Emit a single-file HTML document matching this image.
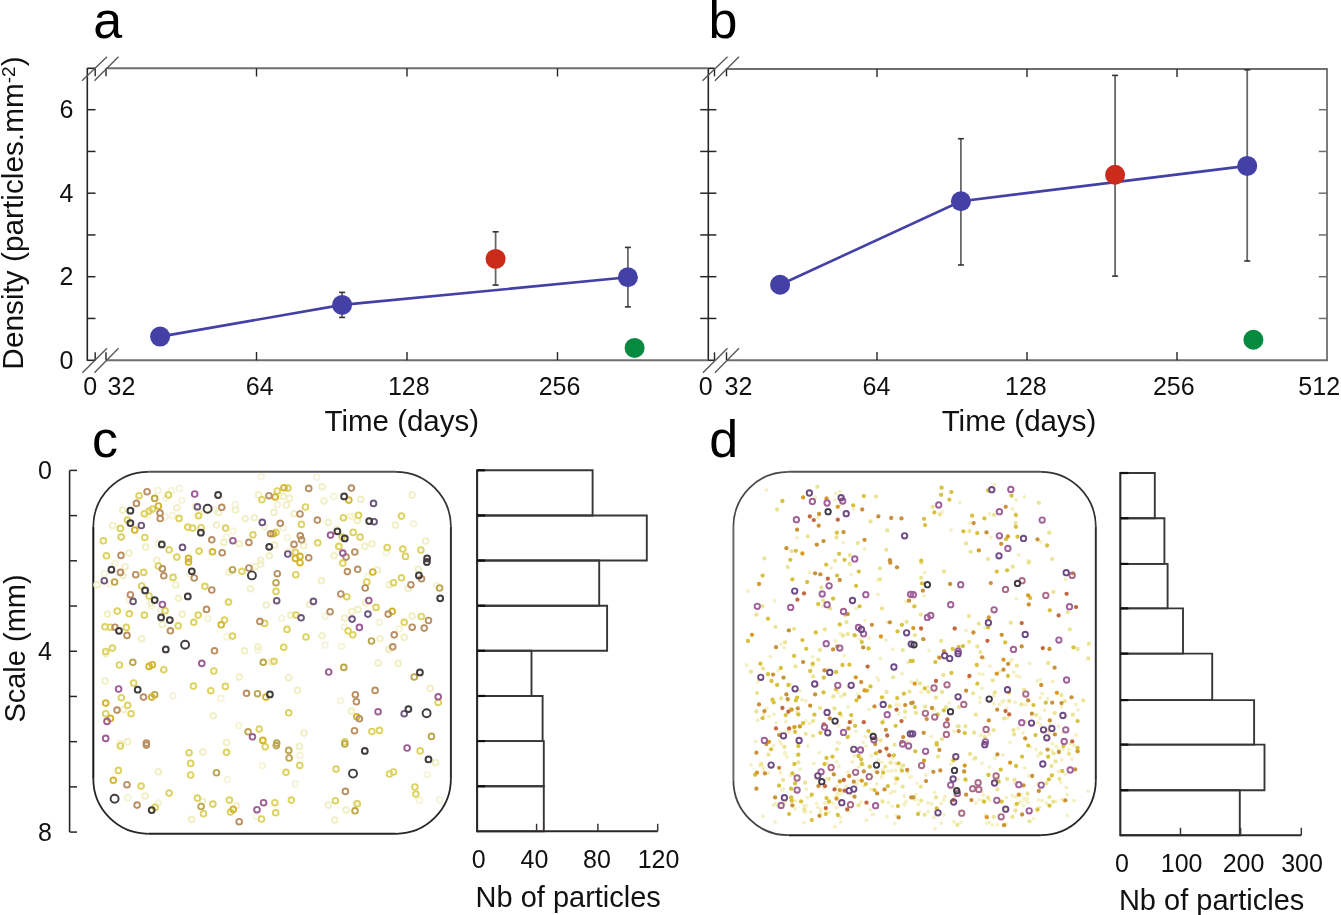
<!DOCTYPE html>
<html><head><meta charset="utf-8"><style>
html,body{margin:0;padding:0;background:#fff;width:1341px;height:915px;overflow:hidden}
svg{display:block;will-change:transform}
text{font-family:"Liberation Sans",sans-serif}
</style></head><body>
<svg width="1341" height="915" viewBox="0 0 1341 915" font-family="Liberation Sans, sans-serif"><text x="93.3" y="37.8" font-size="52" fill="#000">a</text>
<text x="708.6" y="37.8" font-size="52" fill="#000">b</text>
<text x="92" y="457.2" font-size="52" fill="#000">c</text>
<text x="709.3" y="457.2" font-size="52" fill="#000">d</text>
<line x1="87.3" y1="68" x2="87.3" y2="360.8" stroke="#262626" stroke-width="1.6" />
<line x1="708.3" y1="68" x2="708.3" y2="360.8" stroke="#262626" stroke-width="1.6" />
<line x1="1327" y1="69" x2="1327" y2="360.8" stroke="#6e6e6e" stroke-width="1.8" />
<line x1="106" y1="68.3" x2="708.3" y2="68.3" stroke="#6e6e6e" stroke-width="2" />
<line x1="106" y1="360.3" x2="708.3" y2="360.3" stroke="#6e6e6e" stroke-width="2" />
<line x1="726.5" y1="69" x2="1327.8" y2="69" stroke="#6e6e6e" stroke-width="2" />
<line x1="726.5" y1="360.3" x2="1327.8" y2="360.3" stroke="#6e6e6e" stroke-width="2" />
<line x1="87.3" y1="68.3" x2="95.2" y2="68.3" stroke="#262626" stroke-width="1.6" />
<line x1="95.2" y1="68.3" x2="95.2" y2="76.3" stroke="#262626" stroke-width="1.4" />
<line x1="106" y1="68.3" x2="106" y2="76.3" stroke="#262626" stroke-width="1.4" />
<line x1="87.3" y1="360.3" x2="95.2" y2="360.3" stroke="#262626" stroke-width="1.6" />
<line x1="95.2" y1="360.3" x2="95.2" y2="352.3" stroke="#262626" stroke-width="1.4" />
<line x1="106" y1="360.3" x2="106" y2="352.3" stroke="#262626" stroke-width="1.4" />
<line x1="708.3" y1="68.3" x2="714.5" y2="68.3" stroke="#262626" stroke-width="1.6" />
<line x1="714.5" y1="68.3" x2="714.5" y2="76.3" stroke="#262626" stroke-width="1.4" />
<line x1="726.5" y1="68.3" x2="726.5" y2="76.3" stroke="#262626" stroke-width="1.4" />
<line x1="708.3" y1="360.3" x2="714.5" y2="360.3" stroke="#262626" stroke-width="1.6" />
<line x1="714.5" y1="360.3" x2="714.5" y2="352.3" stroke="#262626" stroke-width="1.4" />
<line x1="726.5" y1="360.3" x2="726.5" y2="352.3" stroke="#262626" stroke-width="1.4" />
<line x1="82" y1="80.7" x2="107" y2="56.7" stroke="#555" stroke-width="1.3" />
<line x1="94.4" y1="80.7" x2="118.5" y2="56.7" stroke="#555" stroke-width="1.3" />
<line x1="82.4" y1="372.7" x2="107" y2="348.2" stroke="#555" stroke-width="1.3" />
<line x1="94.4" y1="372.7" x2="118.5" y2="348.2" stroke="#555" stroke-width="1.3" />
<line x1="702.5" y1="80.7" x2="727.5" y2="56.7" stroke="#555" stroke-width="1.3" />
<line x1="714.9" y1="80.7" x2="739.0" y2="56.7" stroke="#555" stroke-width="1.3" />
<line x1="702.9" y1="372.7" x2="727.5" y2="348.2" stroke="#555" stroke-width="1.3" />
<line x1="714.9" y1="372.7" x2="739.0" y2="348.2" stroke="#555" stroke-width="1.3" />
<line x1="87.3" y1="318.45" x2="95.5" y2="318.45" stroke="#262626" stroke-width="1.5" />
<line x1="700.2" y1="318.45" x2="716.4" y2="318.45" stroke="#262626" stroke-width="1.5" />
<line x1="1318.8" y1="318.45" x2="1327" y2="318.45" stroke="#6e6e6e" stroke-width="1.5" />
<line x1="87.3" y1="276.7" x2="95.5" y2="276.7" stroke="#262626" stroke-width="1.5" />
<line x1="700.2" y1="276.7" x2="716.4" y2="276.7" stroke="#262626" stroke-width="1.5" />
<line x1="1318.8" y1="276.7" x2="1327" y2="276.7" stroke="#6e6e6e" stroke-width="1.5" />
<line x1="87.3" y1="234.95" x2="95.5" y2="234.95" stroke="#262626" stroke-width="1.5" />
<line x1="700.2" y1="234.95" x2="716.4" y2="234.95" stroke="#262626" stroke-width="1.5" />
<line x1="1318.8" y1="234.95" x2="1327" y2="234.95" stroke="#6e6e6e" stroke-width="1.5" />
<line x1="87.3" y1="193.2" x2="95.5" y2="193.2" stroke="#262626" stroke-width="1.5" />
<line x1="700.2" y1="193.2" x2="716.4" y2="193.2" stroke="#262626" stroke-width="1.5" />
<line x1="1318.8" y1="193.2" x2="1327" y2="193.2" stroke="#6e6e6e" stroke-width="1.5" />
<line x1="87.3" y1="151.45" x2="95.5" y2="151.45" stroke="#262626" stroke-width="1.5" />
<line x1="700.2" y1="151.45" x2="716.4" y2="151.45" stroke="#262626" stroke-width="1.5" />
<line x1="1318.8" y1="151.45" x2="1327" y2="151.45" stroke="#6e6e6e" stroke-width="1.5" />
<line x1="87.3" y1="109.69999999999999" x2="95.5" y2="109.69999999999999" stroke="#262626" stroke-width="1.5" />
<line x1="700.2" y1="109.69999999999999" x2="716.4" y2="109.69999999999999" stroke="#262626" stroke-width="1.5" />
<line x1="1318.8" y1="109.69999999999999" x2="1327" y2="109.69999999999999" stroke="#6e6e6e" stroke-width="1.5" />
<line x1="256.5" y1="352" x2="256.5" y2="360.3" stroke="#262626" stroke-width="1.4" />
<line x1="256.5" y1="68.3" x2="256.5" y2="76.5" stroke="#262626" stroke-width="1.4" />
<line x1="407" y1="352" x2="407" y2="360.3" stroke="#262626" stroke-width="1.4" />
<line x1="407" y1="68.3" x2="407" y2="76.5" stroke="#262626" stroke-width="1.4" />
<line x1="557.5" y1="352" x2="557.5" y2="360.3" stroke="#262626" stroke-width="1.4" />
<line x1="557.5" y1="68.3" x2="557.5" y2="76.5" stroke="#262626" stroke-width="1.4" />
<line x1="877" y1="352" x2="877" y2="360.3" stroke="#262626" stroke-width="1.4" />
<line x1="877" y1="69" x2="877" y2="77" stroke="#262626" stroke-width="1.4" />
<line x1="1027" y1="352" x2="1027" y2="360.3" stroke="#262626" stroke-width="1.4" />
<line x1="1027" y1="69" x2="1027" y2="77" stroke="#262626" stroke-width="1.4" />
<line x1="1177" y1="352" x2="1177" y2="360.3" stroke="#262626" stroke-width="1.4" />
<line x1="1177" y1="69" x2="1177" y2="77" stroke="#262626" stroke-width="1.4" />
<text x="73.5" y="118.3" font-size="25" fill="#111" text-anchor="end">6</text>
<text x="73.5" y="201.8" font-size="25" fill="#111" text-anchor="end">4</text>
<text x="73.5" y="285.3" font-size="25" fill="#111" text-anchor="end">2</text>
<text x="73.5" y="368.8" font-size="25" fill="#111" text-anchor="end">0</text>
<text x="90.3" y="395" font-size="25" fill="#111" text-anchor="middle">0</text>
<text x="121.5" y="395" font-size="25" fill="#111" text-anchor="middle">32</text>
<text x="259.7" y="395" font-size="25" fill="#111" text-anchor="middle">64</text>
<text x="408.8" y="395" font-size="25" fill="#111" text-anchor="middle">128</text>
<text x="559.5" y="395" font-size="25" fill="#111" text-anchor="middle">256</text>
<text x="705.7" y="395" font-size="25" fill="#111" text-anchor="middle">0</text>
<text x="738.5" y="395" font-size="25" fill="#111" text-anchor="middle">32</text>
<text x="876.4" y="395" font-size="25" fill="#111" text-anchor="middle">64</text>
<text x="1025.9" y="395" font-size="25" fill="#111" text-anchor="middle">128</text>
<text x="1173.8" y="395" font-size="25" fill="#111" text-anchor="middle">256</text>
<text x="1319.2" y="395" font-size="25" fill="#111" text-anchor="middle">512</text>
<text x="401.8" y="430.8" font-size="29.5" fill="#111" text-anchor="middle">Time (days)</text>
<text x="1019" y="430.8" font-size="29.5" fill="#111" text-anchor="middle">Time (days)</text>
<text transform="translate(23.4,213) rotate(-90)" font-size="29.8" fill="#111" text-anchor="middle">Density (particles.mm<tspan font-size="19" dy="-8.7">-2</tspan><tspan dy="8.7">)</tspan></text>
<line x1="342.1" y1="292.4" x2="342.1" y2="317.4" stroke="#6b6767" stroke-width="1.8" />
<line x1="339.1" y1="292.4" x2="345.1" y2="292.4" stroke="#333" stroke-width="1.6" />
<line x1="339.1" y1="317.4" x2="345.1" y2="317.4" stroke="#333" stroke-width="1.6" />
<line x1="495.6" y1="231.8" x2="495.6" y2="285.1" stroke="#6b6767" stroke-width="1.8" />
<line x1="492.6" y1="231.8" x2="498.6" y2="231.8" stroke="#333" stroke-width="1.6" />
<line x1="492.6" y1="285.1" x2="498.6" y2="285.1" stroke="#333" stroke-width="1.6" />
<line x1="627.9" y1="247.4" x2="627.9" y2="306.9" stroke="#6b6767" stroke-width="1.8" />
<line x1="624.9" y1="247.4" x2="630.9" y2="247.4" stroke="#333" stroke-width="1.6" />
<line x1="624.9" y1="306.9" x2="630.9" y2="306.9" stroke="#333" stroke-width="1.6" />
<polyline points="160.1,336.6 342.1,304.9 627.9,277.3" fill="none" stroke="#4340a6" stroke-width="2.6"/>
<circle cx="160.1" cy="336.6" r="10" fill="#4340a6"/>
<circle cx="342.1" cy="304.9" r="10" fill="#4340a6"/>
<circle cx="627.9" cy="277.3" r="10" fill="#4340a6"/>
<circle cx="495.6" cy="258.9" r="10" fill="#cc2a1b"/>
<circle cx="634.6" cy="347.9" r="10" fill="#058a40"/>
<line x1="960.9" y1="138.7" x2="960.9" y2="265" stroke="#6b6767" stroke-width="1.8" />
<line x1="957.9" y1="138.7" x2="963.9" y2="138.7" stroke="#333" stroke-width="1.6" />
<line x1="957.9" y1="265" x2="963.9" y2="265" stroke="#333" stroke-width="1.6" />
<line x1="1115.1" y1="75.4" x2="1115.1" y2="276.1" stroke="#6b6767" stroke-width="1.8" />
<line x1="1112.1" y1="75.4" x2="1118.1" y2="75.4" stroke="#333" stroke-width="1.6" />
<line x1="1112.1" y1="276.1" x2="1118.1" y2="276.1" stroke="#333" stroke-width="1.6" />
<line x1="1247.2" y1="69.8" x2="1247.2" y2="261" stroke="#6b6767" stroke-width="1.8" />
<line x1="1244.2" y1="69.8" x2="1250.2" y2="69.8" stroke="#333" stroke-width="1.6" />
<line x1="1244.2" y1="261" x2="1250.2" y2="261" stroke="#333" stroke-width="1.6" />
<polyline points="780.1,284.8 960.9,201.2 1247.2,165.9" fill="none" stroke="#4340a6" stroke-width="2.6"/>
<circle cx="780.1" cy="284.8" r="10" fill="#4340a6"/>
<circle cx="960.9" cy="201.2" r="10" fill="#4340a6"/>
<circle cx="1247.2" cy="165.9" r="10" fill="#4340a6"/>
<circle cx="1115.1" cy="174.8" r="10" fill="#cc2a1b"/>
<circle cx="1253.4" cy="339.7" r="10" fill="#058a40"/>
<line x1="69.6" y1="470.4" x2="69.6" y2="832.1" stroke="#262626" stroke-width="1.6" />
<line x1="69.6" y1="470.4" x2="77" y2="470.4" stroke="#262626" stroke-width="1.5" />
<line x1="69.6" y1="515.61" x2="77" y2="515.61" stroke="#262626" stroke-width="1.5" />
<line x1="69.6" y1="560.8199999999999" x2="77" y2="560.8199999999999" stroke="#262626" stroke-width="1.5" />
<line x1="69.6" y1="606.03" x2="77" y2="606.03" stroke="#262626" stroke-width="1.5" />
<line x1="69.6" y1="651.24" x2="77" y2="651.24" stroke="#262626" stroke-width="1.5" />
<line x1="69.6" y1="696.45" x2="77" y2="696.45" stroke="#262626" stroke-width="1.5" />
<line x1="69.6" y1="741.66" x2="77" y2="741.66" stroke="#262626" stroke-width="1.5" />
<line x1="69.6" y1="786.87" x2="77" y2="786.87" stroke="#262626" stroke-width="1.5" />
<line x1="69.6" y1="832.0799999999999" x2="77" y2="832.0799999999999" stroke="#262626" stroke-width="1.5" />
<text x="52" y="479.0" font-size="25" fill="#111" text-anchor="end">0</text>
<text x="52" y="659.8" font-size="25" fill="#111" text-anchor="end">4</text>
<text x="52" y="840.7" font-size="25" fill="#111" text-anchor="end">8</text>
<text transform="translate(24.6,648.5) rotate(-90)" font-size="29" fill="#111" text-anchor="middle">Scale (mm)</text>
<path d="M148.3,471.8 H395.9" stroke="#555555" stroke-width="2.0" fill="none"/>
<path d="M450.9,526.8 V778.8" stroke="#2e2e2e" stroke-width="2.0" fill="none"/>
<path d="M395.9,833.8 H148.3" stroke="#232323" stroke-width="2.0" fill="none"/>
<path d="M93.3,778.8 V526.8" stroke="#161616" stroke-width="2.0" fill="none"/>
<path d="M93.3,526.8 A55,55 0 0 1 148.3,471.8" stroke="#2e2e2e" stroke-width="1.8" fill="none"/>
<path d="M395.9,471.8 A55,55 0 0 1 450.9,526.8" stroke="#333333" stroke-width="1.8" fill="none"/>
<path d="M450.9,778.8 A55,55 0 0 1 395.9,833.8" stroke="#262626" stroke-width="1.8" fill="none"/>
<path d="M148.3,833.8 A55,55 0 0 1 93.3,778.8" stroke="#262626" stroke-width="1.8" fill="none"/>
<path d="M788.4,471.8 H1040.8" stroke="#555555" stroke-width="2.0" fill="none"/>
<path d="M1095.8,526.8 V780.2" stroke="#2e2e2e" stroke-width="2.0" fill="none"/>
<path d="M1040.8,835.2 H788.4" stroke="#232323" stroke-width="2.0" fill="none"/>
<path d="M733.4,780.2 V526.8" stroke="#6a6a6a" stroke-width="2.0" fill="none"/>
<path d="M733.4,526.8 A55,55 0 0 1 788.4,471.8" stroke="#4a4a4a" stroke-width="1.8" fill="none"/>
<path d="M1040.8,471.8 A55,55 0 0 1 1095.8,526.8" stroke="#333333" stroke-width="1.8" fill="none"/>
<path d="M1095.8,780.2 A55,55 0 0 1 1040.8,835.2" stroke="#262626" stroke-width="1.8" fill="none"/>
<path d="M788.4,835.2 A55,55 0 0 1 733.4,780.2" stroke="#444444" stroke-width="1.8" fill="none"/>
<polyline points="477.1,470.3 592.6,470.3 592.6,515.4300000000001 477.1,515.4300000000001" fill="none" stroke="#3a3636" stroke-width="1.9"/>
<polyline points="477.1,515.4300000000001 646.8,515.4300000000001 646.8,560.5600000000001 477.1,560.5600000000001" fill="none" stroke="#3a3636" stroke-width="1.9"/>
<polyline points="477.1,560.5600000000001 599.2,560.5600000000001 599.2,605.69 477.1,605.69" fill="none" stroke="#3a3636" stroke-width="1.9"/>
<polyline points="477.1,605.69 607.1,605.69 607.1,650.82 477.1,650.82" fill="none" stroke="#3a3636" stroke-width="1.9"/>
<polyline points="477.1,650.82 531.5,650.82 531.5,695.95 477.1,695.95" fill="none" stroke="#3a3636" stroke-width="1.9"/>
<polyline points="477.1,695.95 542.6,695.95 542.6,741.08 477.1,741.08" fill="none" stroke="#3a3636" stroke-width="1.9"/>
<polyline points="477.1,741.08 543.8,741.08 543.8,786.21 477.1,786.21" fill="none" stroke="#3a3636" stroke-width="1.9"/>
<polyline points="477.1,786.21 543.8,786.21 543.8,831.34 477.1,831.34" fill="none" stroke="#3a3636" stroke-width="1.9"/>
<line x1="477.1" y1="469.40000000000003" x2="477.1" y2="832.1999999999999" stroke="#2c2828" stroke-width="2.1" />
<line x1="477.1" y1="470.3" x2="485.1" y2="470.3" stroke="#141010" stroke-width="2.2" />
<line x1="477.1" y1="515.4300000000001" x2="485.1" y2="515.4300000000001" stroke="#141010" stroke-width="2.2" />
<line x1="477.1" y1="560.5600000000001" x2="485.1" y2="560.5600000000001" stroke="#141010" stroke-width="2.2" />
<line x1="477.1" y1="605.69" x2="485.1" y2="605.69" stroke="#141010" stroke-width="2.2" />
<line x1="477.1" y1="650.82" x2="485.1" y2="650.82" stroke="#141010" stroke-width="2.2" />
<line x1="477.1" y1="695.95" x2="485.1" y2="695.95" stroke="#141010" stroke-width="2.2" />
<line x1="477.1" y1="741.08" x2="485.1" y2="741.08" stroke="#141010" stroke-width="2.2" />
<line x1="477.1" y1="786.21" x2="485.1" y2="786.21" stroke="#141010" stroke-width="2.2" />
<line x1="477.1" y1="831.3" x2="657.7" y2="831.3" stroke="#2c2828" stroke-width="1.9" />
<line x1="536.6" y1="831.3" x2="536.6" y2="823.8" stroke="#3a3636" stroke-width="1.5" />
<line x1="597.9" y1="831.3" x2="597.9" y2="823.8" stroke="#3a3636" stroke-width="1.5" />
<line x1="657.7" y1="831.3" x2="657.7" y2="823.8" stroke="#3a3636" stroke-width="1.5" />
<text x="478.7" y="868.3" font-size="25" fill="#111" text-anchor="middle">0</text>
<text x="534.4" y="868.3" font-size="25" fill="#111" text-anchor="middle">40</text>
<text x="597" y="868.3" font-size="25" fill="#111" text-anchor="middle">80</text>
<text x="658.5" y="868.3" font-size="25" fill="#111" text-anchor="middle">120</text>
<text x="568.2" y="907.1" font-size="29" fill="#111" text-anchor="middle">Nb of particles</text>
<polyline points="1120.3,473 1154.8,473 1154.8,518.2 1120.3,518.2" fill="none" stroke="#3a3636" stroke-width="1.9"/>
<polyline points="1120.3,518.2 1164.4,518.2 1164.4,563.9 1120.3,563.9" fill="none" stroke="#3a3636" stroke-width="1.9"/>
<polyline points="1120.3,563.9 1167.6,563.9 1167.6,608.4 1120.3,608.4" fill="none" stroke="#3a3636" stroke-width="1.9"/>
<polyline points="1120.3,608.4 1183,608.4 1183,653.6 1120.3,653.6" fill="none" stroke="#3a3636" stroke-width="1.9"/>
<polyline points="1120.3,653.6 1212.2,653.6 1212.2,700.1 1120.3,700.1" fill="none" stroke="#3a3636" stroke-width="1.9"/>
<polyline points="1120.3,700.1 1254.1,700.1 1254.1,744.6 1120.3,744.6" fill="none" stroke="#3a3636" stroke-width="1.9"/>
<polyline points="1120.3,744.6 1264.5,744.6 1264.5,790.2 1120.3,790.2" fill="none" stroke="#3a3636" stroke-width="1.9"/>
<polyline points="1120.3,790.2 1239.8,790.2 1239.8,835.3 1120.3,835.3" fill="none" stroke="#3a3636" stroke-width="1.9"/>
<line x1="1120.3" y1="472.1" x2="1120.3" y2="836.1999999999999" stroke="#2c2828" stroke-width="2.1" />
<line x1="1120.3" y1="473" x2="1128.3" y2="473" stroke="#141010" stroke-width="2.2" />
<line x1="1120.3" y1="518.2" x2="1128.3" y2="518.2" stroke="#141010" stroke-width="2.2" />
<line x1="1120.3" y1="563.9" x2="1128.3" y2="563.9" stroke="#141010" stroke-width="2.2" />
<line x1="1120.3" y1="608.4" x2="1128.3" y2="608.4" stroke="#141010" stroke-width="2.2" />
<line x1="1120.3" y1="653.6" x2="1128.3" y2="653.6" stroke="#141010" stroke-width="2.2" />
<line x1="1120.3" y1="700.1" x2="1128.3" y2="700.1" stroke="#141010" stroke-width="2.2" />
<line x1="1120.3" y1="744.6" x2="1128.3" y2="744.6" stroke="#141010" stroke-width="2.2" />
<line x1="1120.3" y1="790.2" x2="1128.3" y2="790.2" stroke="#141010" stroke-width="2.2" />
<line x1="1120.3" y1="835.3" x2="1301.3" y2="835.3" stroke="#2c2828" stroke-width="1.9" />
<line x1="1180.5" y1="835.3" x2="1180.5" y2="827.8" stroke="#3a3636" stroke-width="1.5" />
<line x1="1240.6" y1="835.3" x2="1240.6" y2="827.8" stroke="#3a3636" stroke-width="1.5" />
<line x1="1301.3" y1="835.3" x2="1301.3" y2="827.8" stroke="#3a3636" stroke-width="1.5" />
<text x="1122" y="871.5" font-size="25" fill="#111" text-anchor="middle">0</text>
<text x="1181.6" y="871.5" font-size="25" fill="#111" text-anchor="middle">100</text>
<text x="1243.5" y="871.5" font-size="25" fill="#111" text-anchor="middle">200</text>
<text x="1302" y="871.5" font-size="25" fill="#111" text-anchor="middle">300</text>
<text x="1211.6" y="910" font-size="29" fill="#111" text-anchor="middle">Nb of particles</text><g>
<g fill="none" stroke="#f6f4d8" stroke-width="1.9">
<circle cx="273.3" cy="496.5" r="2.85"/>
<circle cx="181.8" cy="500.5" r="2.85"/>
<circle cx="261.2" cy="476.8" r="2.85"/>
<circle cx="172.5" cy="515.5" r="2.85"/>
<circle cx="195.6" cy="506.6" r="2.85"/>
<circle cx="171.3" cy="490.5" r="2.85"/>
<circle cx="166.0" cy="498.0" r="2.85"/>
<circle cx="157.8" cy="490.4" r="2.85"/>
<circle cx="199.6" cy="513.4" r="2.85"/>
<circle cx="352.9" cy="516.5" r="2.85"/>
<circle cx="164.9" cy="516.9" r="2.85"/>
<circle cx="147.9" cy="515.0" r="2.85"/>
<circle cx="179.4" cy="488.5" r="2.85"/>
<circle cx="316.7" cy="477.2" r="2.85"/>
<circle cx="235.3" cy="504.6" r="2.85"/>
<circle cx="277.5" cy="504.6" r="2.85"/>
<circle cx="206.2" cy="510.9" r="2.85"/>
<circle cx="214.9" cy="509.9" r="2.85"/>
<circle cx="333.9" cy="496.4" r="2.85"/>
<circle cx="288.2" cy="551.1" r="2.85"/>
<circle cx="115.1" cy="563.2" r="2.85"/>
<circle cx="264.4" cy="527.1" r="2.85"/>
<circle cx="158.5" cy="543.2" r="2.85"/>
<circle cx="292.5" cy="551.5" r="2.85"/>
<circle cx="339.5" cy="546.7" r="2.85"/>
<circle cx="283.2" cy="527.7" r="2.85"/>
<circle cx="122.3" cy="536.5" r="2.85"/>
<circle cx="233.1" cy="531.1" r="2.85"/>
<circle cx="287.5" cy="537.7" r="2.85"/>
<circle cx="386.1" cy="552.8" r="2.85"/>
<circle cx="336.8" cy="529.0" r="2.85"/>
<circle cx="413.6" cy="523.8" r="2.85"/>
<circle cx="350.1" cy="516.2" r="2.85"/>
<circle cx="226.7" cy="537.0" r="2.85"/>
<circle cx="104.4" cy="573.7" r="2.85"/>
<circle cx="129.0" cy="600.2" r="2.85"/>
<circle cx="367.8" cy="576.0" r="2.85"/>
<circle cx="436.7" cy="585.4" r="2.85"/>
<circle cx="109.9" cy="583.7" r="2.85"/>
<circle cx="189.7" cy="574.1" r="2.85"/>
<circle cx="151.5" cy="605.7" r="2.85"/>
<circle cx="391.0" cy="648.5" r="2.85"/>
<circle cx="325.1" cy="645.1" r="2.85"/>
<circle cx="344.6" cy="627.3" r="2.85"/>
<circle cx="226.7" cy="636.9" r="2.85"/>
<circle cx="258.0" cy="650.3" r="2.85"/>
<circle cx="399.0" cy="628.9" r="2.85"/>
<circle cx="281.8" cy="618.2" r="2.85"/>
<circle cx="207.8" cy="618.6" r="2.85"/>
<circle cx="160.7" cy="610.2" r="2.85"/>
<circle cx="379.4" cy="622.3" r="2.85"/>
<circle cx="341.6" cy="646.2" r="2.85"/>
<circle cx="325.2" cy="616.2" r="2.85"/>
<circle cx="238.8" cy="725.6" r="2.85"/>
<circle cx="340.6" cy="700.7" r="2.85"/>
<circle cx="220.8" cy="698.4" r="2.85"/>
<circle cx="263.5" cy="740.2" r="2.85"/>
<circle cx="172.9" cy="695.9" r="2.85"/>
<circle cx="427.4" cy="774.7" r="2.85"/>
<circle cx="262.4" cy="765.7" r="2.85"/>
<circle cx="300.1" cy="755.4" r="2.85"/>
<circle cx="227.3" cy="779.5" r="2.85"/>
<circle cx="419.6" cy="800.4" r="2.85"/>
<circle cx="127.8" cy="797.9" r="2.85"/>
<circle cx="158.2" cy="803.1" r="2.85"/>
<circle cx="295.4" cy="783.8" r="2.85"/>
<circle cx="355.9" cy="803.2" r="2.85"/>
<circle cx="439.7" cy="799.5" r="2.85"/>
<circle cx="256.5" cy="816.5" r="2.85"/>
</g>
<g fill="none" stroke="#f1efc4" stroke-width="1.9">
<circle cx="122.6" cy="510.1" r="2.85"/>
<circle cx="176.8" cy="507.7" r="2.85"/>
<circle cx="218.5" cy="512.4" r="2.85"/>
<circle cx="235.6" cy="510.0" r="2.85"/>
<circle cx="112.8" cy="525.5" r="2.85"/>
<circle cx="145.7" cy="547.1" r="2.85"/>
<circle cx="216.5" cy="525.1" r="2.85"/>
<circle cx="223.8" cy="542.4" r="2.85"/>
<circle cx="239.2" cy="543.8" r="2.85"/>
<circle cx="245.2" cy="518.8" r="2.85"/>
<circle cx="254.5" cy="517.7" r="2.85"/>
<circle cx="258.6" cy="495.0" r="2.85"/>
<circle cx="269.2" cy="555.8" r="2.85"/>
<circle cx="129.0" cy="553.1" r="2.85"/>
<circle cx="156.8" cy="560.2" r="2.85"/>
<circle cx="260.6" cy="560.5" r="2.85"/>
<circle cx="283.3" cy="496.4" r="2.85"/>
<circle cx="289.4" cy="498.4" r="2.85"/>
<circle cx="286.4" cy="505.0" r="2.85"/>
<circle cx="322.1" cy="486.8" r="2.85"/>
<circle cx="324.1" cy="501.0" r="2.85"/>
<circle cx="360.8" cy="499.3" r="2.85"/>
<circle cx="412.2" cy="495.0" r="2.85"/>
<circle cx="274.0" cy="512.4" r="2.85"/>
<circle cx="294.0" cy="513.7" r="2.85"/>
<circle cx="328.1" cy="522.4" r="2.85"/>
<circle cx="357.4" cy="520.4" r="2.85"/>
<circle cx="395.5" cy="525.1" r="2.85"/>
<circle cx="364.8" cy="546.4" r="2.85"/>
<circle cx="371.9" cy="543.8" r="2.85"/>
<circle cx="303.8" cy="545.8" r="2.85"/>
<circle cx="425.8" cy="541.1" r="2.85"/>
<circle cx="334.1" cy="555.8" r="2.85"/>
<circle cx="274.7" cy="545.1" r="2.85"/>
<circle cx="125.0" cy="566.7" r="2.85"/>
<circle cx="123.0" cy="575.4" r="2.85"/>
<circle cx="97.0" cy="584.7" r="2.85"/>
<circle cx="175.8" cy="585.0" r="2.85"/>
<circle cx="229.2" cy="572.0" r="2.85"/>
<circle cx="255.2" cy="566.7" r="2.85"/>
<circle cx="260.6" cy="564.0" r="2.85"/>
<circle cx="250.5" cy="588.7" r="2.85"/>
<circle cx="151.1" cy="602.7" r="2.85"/>
<circle cx="178.4" cy="598.3" r="2.85"/>
<circle cx="266.3" cy="605.0" r="2.85"/>
<circle cx="107.4" cy="614.3" r="2.85"/>
<circle cx="162.4" cy="624.5" r="2.85"/>
<circle cx="182.2" cy="614.1" r="2.85"/>
<circle cx="141.7" cy="638.8" r="2.85"/>
<circle cx="257.9" cy="646.8" r="2.85"/>
<circle cx="244.5" cy="650.8" r="2.85"/>
<circle cx="321.4" cy="580.7" r="2.85"/>
<circle cx="377.5" cy="570.0" r="2.85"/>
<circle cx="389.5" cy="584.7" r="2.85"/>
<circle cx="418.2" cy="569.3" r="2.85"/>
<circle cx="408.2" cy="588.7" r="2.85"/>
<circle cx="309.4" cy="604.5" r="2.85"/>
<circle cx="365.5" cy="602.7" r="2.85"/>
<circle cx="290.7" cy="615.1" r="2.85"/>
<circle cx="351.8" cy="611.7" r="2.85"/>
<circle cx="358.1" cy="609.4" r="2.85"/>
<circle cx="344.8" cy="618.1" r="2.85"/>
<circle cx="412.2" cy="616.1" r="2.85"/>
<circle cx="322.1" cy="635.7" r="2.85"/>
<circle cx="404.2" cy="637.4" r="2.85"/>
<circle cx="380.1" cy="638.8" r="2.85"/>
<circle cx="388.8" cy="649.4" r="2.85"/>
<circle cx="105.7" cy="653.7" r="2.85"/>
<circle cx="239.2" cy="677.0" r="2.85"/>
<circle cx="271.2" cy="661.7" r="2.85"/>
<circle cx="105.0" cy="681.0" r="2.85"/>
<circle cx="123.7" cy="709.7" r="2.85"/>
<circle cx="213.2" cy="715.8" r="2.85"/>
<circle cx="120.4" cy="743.5" r="2.85"/>
<circle cx="127.7" cy="741.8" r="2.85"/>
<circle cx="226.5" cy="742.5" r="2.85"/>
<circle cx="288.7" cy="677.7" r="2.85"/>
<circle cx="297.4" cy="690.4" r="2.85"/>
<circle cx="378.1" cy="663.0" r="2.85"/>
<circle cx="398.2" cy="663.4" r="2.85"/>
<circle cx="430.2" cy="688.4" r="2.85"/>
<circle cx="351.4" cy="711.1" r="2.85"/>
<circle cx="304.0" cy="733.1" r="2.85"/>
<circle cx="202.7" cy="752.0" r="2.85"/>
<circle cx="158.4" cy="771.8" r="2.85"/>
<circle cx="145.1" cy="796.1" r="2.85"/>
<circle cx="202.5" cy="801.4" r="2.85"/>
<circle cx="236.5" cy="805.7" r="2.85"/>
<circle cx="191.5" cy="819.4" r="2.85"/>
<circle cx="299.4" cy="746.4" r="2.85"/>
<circle cx="435.6" cy="762.7" r="2.85"/>
<circle cx="328.3" cy="805.1" r="2.85"/>
<circle cx="346.1" cy="810.1" r="2.85"/>
<circle cx="334.8" cy="820.1" r="2.85"/>
</g>
<g fill="none" stroke="#ddd25e" stroke-width="1.9">
<circle cx="168.4" cy="495.0" r="2.85"/>
<circle cx="144.4" cy="513.7" r="2.85"/>
<circle cx="149.1" cy="511.1" r="2.85"/>
<circle cx="152.4" cy="509.1" r="2.85"/>
<circle cx="179.1" cy="518.4" r="2.85"/>
<circle cx="127.4" cy="520.1" r="2.85"/>
<circle cx="120.4" cy="528.4" r="2.85"/>
<circle cx="121.0" cy="537.1" r="2.85"/>
<circle cx="144.8" cy="537.5" r="2.85"/>
<circle cx="103.4" cy="540.8" r="2.85"/>
<circle cx="169.1" cy="549.8" r="2.85"/>
<circle cx="176.8" cy="557.1" r="2.85"/>
<circle cx="187.8" cy="527.1" r="2.85"/>
<circle cx="192.5" cy="528.1" r="2.85"/>
<circle cx="198.5" cy="515.7" r="2.85"/>
<circle cx="201.1" cy="527.7" r="2.85"/>
<circle cx="225.6" cy="528.1" r="2.85"/>
<circle cx="252.9" cy="534.8" r="2.85"/>
<circle cx="261.9" cy="499.7" r="2.85"/>
<circle cx="199.1" cy="551.1" r="2.85"/>
<circle cx="106.4" cy="555.8" r="2.85"/>
<circle cx="288.0" cy="488.1" r="2.85"/>
<circle cx="277.3" cy="491.0" r="2.85"/>
<circle cx="305.4" cy="507.0" r="2.85"/>
<circle cx="301.4" cy="524.4" r="2.85"/>
<circle cx="343.4" cy="517.7" r="2.85"/>
<circle cx="358.5" cy="515.3" r="2.85"/>
<circle cx="401.5" cy="516.1" r="2.85"/>
<circle cx="342.1" cy="537.1" r="2.85"/>
<circle cx="353.2" cy="532.4" r="2.85"/>
<circle cx="360.1" cy="537.1" r="2.85"/>
<circle cx="276.0" cy="532.4" r="2.85"/>
<circle cx="317.8" cy="542.8" r="2.85"/>
<circle cx="338.8" cy="546.4" r="2.85"/>
<circle cx="387.2" cy="547.5" r="2.85"/>
<circle cx="402.8" cy="549.1" r="2.85"/>
<circle cx="405.5" cy="556.4" r="2.85"/>
<circle cx="420.9" cy="550.0" r="2.85"/>
<circle cx="295.4" cy="552.4" r="2.85"/>
<circle cx="143.7" cy="572.4" r="2.85"/>
<circle cx="158.4" cy="566.0" r="2.85"/>
<circle cx="173.1" cy="577.4" r="2.85"/>
<circle cx="241.9" cy="571.3" r="2.85"/>
<circle cx="204.9" cy="586.3" r="2.85"/>
<circle cx="141.7" cy="586.0" r="2.85"/>
<circle cx="149.1" cy="596.0" r="2.85"/>
<circle cx="165.1" cy="610.7" r="2.85"/>
<circle cx="228.5" cy="602.1" r="2.85"/>
<circle cx="117.3" cy="611.1" r="2.85"/>
<circle cx="129.3" cy="613.8" r="2.85"/>
<circle cx="144.4" cy="615.1" r="2.85"/>
<circle cx="178.2" cy="625.8" r="2.85"/>
<circle cx="198.2" cy="615.1" r="2.85"/>
<circle cx="193.8" cy="622.3" r="2.85"/>
<circle cx="224.5" cy="620.1" r="2.85"/>
<circle cx="105.0" cy="626.8" r="2.85"/>
<circle cx="110.4" cy="627.2" r="2.85"/>
<circle cx="126.4" cy="627.4" r="2.85"/>
<circle cx="232.5" cy="636.1" r="2.85"/>
<circle cx="264.6" cy="623.4" r="2.85"/>
<circle cx="112.4" cy="648.1" r="2.85"/>
<circle cx="105.7" cy="651.5" r="2.85"/>
<circle cx="276.0" cy="591.4" r="2.85"/>
<circle cx="295.8" cy="574.7" r="2.85"/>
<circle cx="342.8" cy="563.1" r="2.85"/>
<circle cx="366.8" cy="582.0" r="2.85"/>
<circle cx="393.5" cy="582.7" r="2.85"/>
<circle cx="401.5" cy="577.8" r="2.85"/>
<circle cx="346.8" cy="596.7" r="2.85"/>
<circle cx="376.1" cy="607.4" r="2.85"/>
<circle cx="296.0" cy="615.1" r="2.85"/>
<circle cx="421.3" cy="616.5" r="2.85"/>
<circle cx="404.2" cy="622.3" r="2.85"/>
<circle cx="348.1" cy="630.8" r="2.85"/>
<circle cx="352.8" cy="634.8" r="2.85"/>
<circle cx="287.0" cy="629.4" r="2.85"/>
<circle cx="306.0" cy="637.0" r="2.85"/>
<circle cx="283.7" cy="647.2" r="2.85"/>
<circle cx="119.4" cy="665.0" r="2.85"/>
<circle cx="163.8" cy="669.7" r="2.85"/>
<circle cx="213.8" cy="671.0" r="2.85"/>
<circle cx="133.7" cy="683.0" r="2.85"/>
<circle cx="121.3" cy="697.7" r="2.85"/>
<circle cx="127.7" cy="705.3" r="2.85"/>
<circle cx="131.1" cy="713.7" r="2.85"/>
<circle cx="105.7" cy="713.7" r="2.85"/>
<circle cx="193.4" cy="686.1" r="2.85"/>
<circle cx="210.8" cy="690.7" r="2.85"/>
<circle cx="225.4" cy="686.4" r="2.85"/>
<circle cx="259.2" cy="729.1" r="2.85"/>
<circle cx="274.0" cy="661.3" r="2.85"/>
<circle cx="438.2" cy="702.4" r="2.85"/>
<circle cx="288.7" cy="712.8" r="2.85"/>
<circle cx="371.9" cy="731.5" r="2.85"/>
<circle cx="379.5" cy="730.4" r="2.85"/>
<circle cx="344.8" cy="741.8" r="2.85"/>
<circle cx="120.4" cy="746.0" r="2.85"/>
<circle cx="189.1" cy="752.7" r="2.85"/>
<circle cx="226.5" cy="752.3" r="2.85"/>
<circle cx="265.2" cy="746.7" r="2.85"/>
<circle cx="190.7" cy="763.4" r="2.85"/>
<circle cx="190.7" cy="775.0" r="2.85"/>
<circle cx="118.4" cy="770.4" r="2.85"/>
<circle cx="141.1" cy="786.1" r="2.85"/>
<circle cx="169.1" cy="793.1" r="2.85"/>
<circle cx="155.1" cy="807.4" r="2.85"/>
<circle cx="197.4" cy="798.1" r="2.85"/>
<circle cx="203.5" cy="813.7" r="2.85"/>
<circle cx="212.9" cy="804.1" r="2.85"/>
<circle cx="229.4" cy="800.1" r="2.85"/>
<circle cx="230.5" cy="812.1" r="2.85"/>
<circle cx="261.5" cy="819.0" r="2.85"/>
<circle cx="299.8" cy="765.4" r="2.85"/>
<circle cx="286.0" cy="772.3" r="2.85"/>
<circle cx="420.2" cy="750.9" r="2.85"/>
<circle cx="336.1" cy="769.1" r="2.85"/>
<circle cx="389.5" cy="774.0" r="2.85"/>
<circle cx="393.5" cy="772.0" r="2.85"/>
<circle cx="414.9" cy="787.0" r="2.85"/>
<circle cx="415.9" cy="794.1" r="2.85"/>
<circle cx="274.9" cy="802.7" r="2.85"/>
<circle cx="291.4" cy="800.1" r="2.85"/>
<circle cx="275.7" cy="812.8" r="2.85"/>
<circle cx="335.4" cy="800.7" r="2.85"/>
<circle cx="357.4" cy="803.8" r="2.85"/>
</g>
<g fill="none" stroke="#ddd25e" stroke-width="1.9">
<circle cx="139.1" cy="495.7" r="2.85"/>
</g>
<g fill="none" stroke="#bba64e" stroke-width="1.9">
<circle cx="154.7" cy="498.4" r="2.85"/>
<circle cx="114.6" cy="582.0" r="2.85"/>
<circle cx="232.5" cy="569.7" r="2.85"/>
<circle cx="276.0" cy="582.7" r="2.85"/>
<circle cx="439.6" cy="588.0" r="2.85"/>
<circle cx="371.5" cy="641.0" r="2.85"/>
<circle cx="132.8" cy="662.3" r="2.85"/>
<circle cx="263.2" cy="662.3" r="2.85"/>
<circle cx="154.7" cy="694.7" r="2.85"/>
<circle cx="257.5" cy="693.7" r="2.85"/>
<circle cx="248.1" cy="731.8" r="2.85"/>
<circle cx="343.8" cy="667.4" r="2.85"/>
<circle cx="414.2" cy="677.0" r="2.85"/>
<circle cx="431.5" cy="736.4" r="2.85"/>
<circle cx="276.7" cy="743.1" r="2.85"/>
<circle cx="216.5" cy="772.7" r="2.85"/>
<circle cx="201.1" cy="806.5" r="2.85"/>
<circle cx="276.3" cy="745.6" r="2.85"/>
<circle cx="288.7" cy="750.4" r="2.85"/>
<circle cx="289.1" cy="758.0" r="2.85"/>
<circle cx="344.8" cy="744.0" r="2.85"/>
<circle cx="355.0" cy="810.8" r="2.85"/>
</g>
<g fill="none" stroke="#d4b62e" stroke-width="1.9">
<circle cx="158.4" cy="506.0" r="2.85"/>
<circle cx="134.7" cy="530.1" r="2.85"/>
<circle cx="188.5" cy="558.4" r="2.85"/>
<circle cx="212.5" cy="551.8" r="2.85"/>
<circle cx="284.0" cy="487.7" r="2.85"/>
<circle cx="275.3" cy="497.0" r="2.85"/>
<circle cx="348.8" cy="500.1" r="2.85"/>
<circle cx="273.3" cy="533.8" r="2.85"/>
<circle cx="295.4" cy="558.4" r="2.85"/>
<circle cx="300.0" cy="556.4" r="2.85"/>
<circle cx="188.5" cy="562.0" r="2.85"/>
<circle cx="221.2" cy="624.8" r="2.85"/>
<circle cx="300.0" cy="562.7" r="2.85"/>
<circle cx="372.8" cy="572.0" r="2.85"/>
<circle cx="392.2" cy="611.4" r="2.85"/>
<circle cx="149.1" cy="666.4" r="2.85"/>
<circle cx="152.4" cy="664.7" r="2.85"/>
<circle cx="151.7" cy="697.1" r="2.85"/>
<circle cx="105.7" cy="703.1" r="2.85"/>
<circle cx="110.4" cy="718.4" r="2.85"/>
<circle cx="265.9" cy="697.1" r="2.85"/>
<circle cx="262.8" cy="740.4" r="2.85"/>
<circle cx="356.8" cy="716.8" r="2.85"/>
<circle cx="113.3" cy="780.3" r="2.85"/>
<circle cx="233.2" cy="809.4" r="2.85"/>
</g>
<g fill="none" stroke="#b89064" stroke-width="1.9">
<circle cx="147.1" cy="491.7" r="2.85"/>
<circle cx="136.4" cy="503.4" r="2.85"/>
<circle cx="160.0" cy="513.1" r="2.85"/>
<circle cx="160.2" cy="518.5" r="2.85"/>
<circle cx="221.8" cy="507.3" r="2.85"/>
<circle cx="211.8" cy="539.8" r="2.85"/>
<circle cx="248.9" cy="542.4" r="2.85"/>
<circle cx="269.0" cy="495.7" r="2.85"/>
<circle cx="270.6" cy="533.8" r="2.85"/>
<circle cx="222.2" cy="552.7" r="2.85"/>
<circle cx="121.0" cy="555.4" r="2.85"/>
<circle cx="308.7" cy="488.4" r="2.85"/>
<circle cx="351.4" cy="488.1" r="2.85"/>
<circle cx="300.0" cy="514.0" r="2.85"/>
<circle cx="317.4" cy="520.1" r="2.85"/>
<circle cx="280.3" cy="523.3" r="2.85"/>
<circle cx="300.3" cy="535.8" r="2.85"/>
<circle cx="301.6" cy="539.8" r="2.85"/>
<circle cx="294.0" cy="544.4" r="2.85"/>
<circle cx="308.7" cy="557.8" r="2.85"/>
<circle cx="346.1" cy="557.1" r="2.85"/>
<circle cx="354.8" cy="552.0" r="2.85"/>
<circle cx="120.4" cy="572.4" r="2.85"/>
<circle cx="135.7" cy="574.7" r="2.85"/>
<circle cx="162.4" cy="568.7" r="2.85"/>
<circle cx="163.8" cy="575.8" r="2.85"/>
<circle cx="194.2" cy="578.0" r="2.85"/>
<circle cx="248.9" cy="568.0" r="2.85"/>
<circle cx="211.8" cy="590.0" r="2.85"/>
<circle cx="130.4" cy="594.7" r="2.85"/>
<circle cx="170.4" cy="630.8" r="2.85"/>
<circle cx="206.5" cy="609.4" r="2.85"/>
<circle cx="115.0" cy="627.2" r="2.85"/>
<circle cx="127.0" cy="635.4" r="2.85"/>
<circle cx="259.9" cy="621.4" r="2.85"/>
<circle cx="214.5" cy="650.8" r="2.85"/>
<circle cx="277.3" cy="573.7" r="2.85"/>
<circle cx="347.4" cy="571.6" r="2.85"/>
<circle cx="357.7" cy="569.3" r="2.85"/>
<circle cx="365.2" cy="588.0" r="2.85"/>
<circle cx="421.5" cy="578.7" r="2.85"/>
<circle cx="410.9" cy="584.7" r="2.85"/>
<circle cx="340.8" cy="594.0" r="2.85"/>
<circle cx="330.1" cy="611.7" r="2.85"/>
<circle cx="388.2" cy="614.1" r="2.85"/>
<circle cx="428.5" cy="620.5" r="2.85"/>
<circle cx="412.2" cy="627.2" r="2.85"/>
<circle cx="424.2" cy="628.1" r="2.85"/>
<circle cx="394.2" cy="634.8" r="2.85"/>
<circle cx="392.8" cy="646.8" r="2.85"/>
<circle cx="143.5" cy="697.1" r="2.85"/>
<circle cx="117.0" cy="710.1" r="2.85"/>
<circle cx="246.5" cy="693.3" r="2.85"/>
<circle cx="146.4" cy="743.1" r="2.85"/>
<circle cx="355.4" cy="694.7" r="2.85"/>
<circle cx="356.4" cy="701.7" r="2.85"/>
<circle cx="375.1" cy="690.4" r="2.85"/>
<circle cx="359.4" cy="718.7" r="2.85"/>
<circle cx="354.5" cy="730.7" r="2.85"/>
<circle cx="146.4" cy="745.1" r="2.85"/>
<circle cx="127.0" cy="784.7" r="2.85"/>
<circle cx="137.1" cy="805.1" r="2.85"/>
<circle cx="239.2" cy="821.7" r="2.85"/>
<circle cx="345.4" cy="791.4" r="2.85"/>
</g>
<g fill="none" stroke="#9c5c94" stroke-width="1.9">
<circle cx="194.7" cy="494.0" r="2.85"/>
<circle cx="232.9" cy="540.7" r="2.85"/>
<circle cx="330.5" cy="535.1" r="2.85"/>
<circle cx="342.8" cy="553.1" r="2.85"/>
<circle cx="162.4" cy="604.5" r="2.85"/>
<circle cx="368.8" cy="600.5" r="2.85"/>
<circle cx="359.4" cy="627.4" r="2.85"/>
<circle cx="201.8" cy="663.4" r="2.85"/>
<circle cx="118.6" cy="689.0" r="2.85"/>
<circle cx="107.0" cy="721.4" r="2.85"/>
<circle cx="252.5" cy="736.8" r="2.85"/>
<circle cx="105.7" cy="738.4" r="2.85"/>
<circle cx="328.7" cy="672.0" r="2.85"/>
<circle cx="438.2" cy="696.8" r="2.85"/>
<circle cx="378.1" cy="711.7" r="2.85"/>
<circle cx="257.0" cy="809.7" r="2.85"/>
<circle cx="263.6" cy="802.7" r="2.85"/>
<circle cx="407.1" cy="748.0" r="2.85"/>
</g>
<g fill="none" stroke="#6e567e" stroke-width="1.9">
<circle cx="197.4" cy="506.8" r="2.85"/>
<circle cx="141.3" cy="525.5" r="2.85"/>
<circle cx="182.5" cy="547.4" r="2.85"/>
<circle cx="262.3" cy="522.4" r="2.85"/>
<circle cx="373.5" cy="503.4" r="2.85"/>
<circle cx="374.1" cy="521.7" r="2.85"/>
<circle cx="287.8" cy="554.0" r="2.85"/>
<circle cx="104.3" cy="580.7" r="2.85"/>
<circle cx="133.1" cy="601.4" r="2.85"/>
<circle cx="276.7" cy="600.7" r="2.85"/>
<circle cx="313.4" cy="601.4" r="2.85"/>
<circle cx="301.1" cy="617.8" r="2.85"/>
<circle cx="352.1" cy="619.1" r="2.85"/>
<circle cx="367.9" cy="614.1" r="2.85"/>
<circle cx="404.2" cy="713.7" r="2.85"/>
</g>
<g fill="none" stroke="#433d3d" stroke-width="2.0">
<circle cx="218.1" cy="495.0" r="2.9"/>
<circle cx="130.4" cy="510.7" r="2.9"/>
<circle cx="130.4" cy="523.1" r="2.9"/>
<circle cx="161.8" cy="544.4" r="2.9"/>
<circle cx="200.9" cy="532.7" r="2.9"/>
<circle cx="269.2" cy="546.8" r="2.9"/>
<circle cx="344.1" cy="496.4" r="2.9"/>
<circle cx="369.2" cy="521.1" r="2.9"/>
<circle cx="337.4" cy="531.3" r="2.9"/>
<circle cx="344.8" cy="538.4" r="2.9"/>
<circle cx="427.1" cy="558.4" r="2.9"/>
<circle cx="111.4" cy="569.7" r="2.9"/>
<circle cx="191.8" cy="571.3" r="2.9"/>
<circle cx="145.1" cy="590.4" r="2.9"/>
<circle cx="154.7" cy="600.1" r="2.9"/>
<circle cx="187.8" cy="596.4" r="2.9"/>
<circle cx="161.1" cy="617.4" r="2.9"/>
<circle cx="169.8" cy="620.1" r="2.9"/>
<circle cx="119.0" cy="630.8" r="2.9"/>
<circle cx="165.8" cy="649.4" r="2.9"/>
<circle cx="418.9" cy="575.4" r="2.9"/>
<circle cx="440.2" cy="598.3" r="2.9"/>
<circle cx="426.9" cy="562.0" r="2.9"/>
<circle cx="137.7" cy="689.7" r="2.9"/>
<circle cx="269.9" cy="694.4" r="2.9"/>
<circle cx="419.9" cy="672.4" r="2.9"/>
<circle cx="408.4" cy="709.1" r="2.9"/>
<circle cx="151.7" cy="810.1" r="2.9"/>
<circle cx="364.8" cy="750.9" r="2.9"/>
<circle cx="428.5" cy="759.4" r="2.9"/>
</g>
<g fill="none" stroke="#433d3d" stroke-width="1.9">
<circle cx="207.6" cy="508.8" r="4.0"/>
<circle cx="251.9" cy="575.4" r="4.0"/>
<circle cx="185.1" cy="644.8" r="4.0"/>
<circle cx="426.6" cy="713.3" r="4.0"/>
<circle cx="114.6" cy="798.7" r="4.0"/>
<circle cx="353.0" cy="773.6" r="4.0"/>
</g>
</g>
<g>
<g fill="#f4f0c2">
<circle cx="840.0" cy="491.7" r="1.9"/>
<circle cx="853.6" cy="509.1" r="1.9"/>
<circle cx="994.2" cy="484.4" r="1.9"/>
<circle cx="989.5" cy="513.9" r="1.9"/>
<circle cx="959.8" cy="502.6" r="1.9"/>
<circle cx="834.9" cy="499.8" r="1.9"/>
<circle cx="815.2" cy="497.2" r="1.9"/>
<circle cx="942.3" cy="511.8" r="1.9"/>
<circle cx="817.9" cy="517.6" r="1.9"/>
<circle cx="1012.4" cy="509.0" r="1.9"/>
<circle cx="840.4" cy="504.2" r="1.9"/>
<circle cx="835.9" cy="493.4" r="1.9"/>
<circle cx="1015.3" cy="513.5" r="1.9"/>
<circle cx="1016.2" cy="499.9" r="1.9"/>
<circle cx="1024.3" cy="497.0" r="1.9"/>
<circle cx="766.3" cy="490.1" r="1.9"/>
<circle cx="843.2" cy="542.7" r="1.9"/>
<circle cx="1040.6" cy="541.8" r="1.9"/>
<circle cx="990.9" cy="537.6" r="1.9"/>
<circle cx="970.2" cy="522.9" r="1.9"/>
<circle cx="797.2" cy="537.8" r="1.9"/>
<circle cx="1018.6" cy="554.8" r="1.9"/>
<circle cx="951.0" cy="529.9" r="1.9"/>
<circle cx="864.5" cy="548.8" r="1.9"/>
<circle cx="774.7" cy="600.8" r="1.9"/>
<circle cx="1065.4" cy="579.3" r="1.9"/>
<circle cx="924.0" cy="596.0" r="1.9"/>
<circle cx="1016.4" cy="598.7" r="1.9"/>
<circle cx="822.8" cy="606.1" r="1.9"/>
<circle cx="851.3" cy="574.6" r="1.9"/>
<circle cx="809.4" cy="572.5" r="1.9"/>
<circle cx="831.1" cy="568.0" r="1.9"/>
<circle cx="1050.1" cy="610.1" r="1.9"/>
<circle cx="747.9" cy="590.9" r="1.9"/>
<circle cx="924.6" cy="572.6" r="1.9"/>
<circle cx="878.0" cy="594.3" r="1.9"/>
<circle cx="856.0" cy="608.7" r="1.9"/>
<circle cx="906.1" cy="601.5" r="1.9"/>
<circle cx="877.7" cy="580.1" r="1.9"/>
<circle cx="892.8" cy="649.2" r="1.9"/>
<circle cx="860.2" cy="639.1" r="1.9"/>
<circle cx="838.7" cy="648.6" r="1.9"/>
<circle cx="844.2" cy="655.6" r="1.9"/>
<circle cx="784.3" cy="647.6" r="1.9"/>
<circle cx="835.5" cy="641.0" r="1.9"/>
<circle cx="984.9" cy="628.1" r="1.9"/>
<circle cx="886.0" cy="640.0" r="1.9"/>
<circle cx="780.9" cy="644.1" r="1.9"/>
<circle cx="865.2" cy="620.3" r="1.9"/>
<circle cx="856.4" cy="625.7" r="1.9"/>
<circle cx="933.2" cy="614.4" r="1.9"/>
<circle cx="840.6" cy="633.6" r="1.9"/>
<circle cx="869.1" cy="638.1" r="1.9"/>
<circle cx="855.5" cy="636.2" r="1.9"/>
<circle cx="887.3" cy="622.5" r="1.9"/>
<circle cx="856.7" cy="635.6" r="1.9"/>
<circle cx="966.0" cy="630.5" r="1.9"/>
<circle cx="915.3" cy="646.0" r="1.9"/>
<circle cx="982.8" cy="674.1" r="1.9"/>
<circle cx="984.0" cy="658.0" r="1.9"/>
<circle cx="1013.8" cy="672.2" r="1.9"/>
<circle cx="802.2" cy="699.8" r="1.9"/>
<circle cx="1040.4" cy="679.6" r="1.9"/>
<circle cx="837.8" cy="692.2" r="1.9"/>
<circle cx="778.2" cy="670.7" r="1.9"/>
<circle cx="847.5" cy="686.7" r="1.9"/>
<circle cx="979.2" cy="673.7" r="1.9"/>
<circle cx="982.0" cy="688.2" r="1.9"/>
<circle cx="1003.9" cy="700.4" r="1.9"/>
<circle cx="767.9" cy="674.9" r="1.9"/>
<circle cx="864.7" cy="690.0" r="1.9"/>
<circle cx="968.0" cy="678.3" r="1.9"/>
<circle cx="787.9" cy="700.6" r="1.9"/>
<circle cx="1011.8" cy="659.4" r="1.9"/>
<circle cx="812.8" cy="665.9" r="1.9"/>
<circle cx="907.7" cy="662.7" r="1.9"/>
<circle cx="757.8" cy="681.8" r="1.9"/>
<circle cx="811.8" cy="664.1" r="1.9"/>
<circle cx="927.8" cy="686.7" r="1.9"/>
<circle cx="1019.5" cy="676.9" r="1.9"/>
<circle cx="1037.3" cy="680.9" r="1.9"/>
<circle cx="1052.5" cy="681.5" r="1.9"/>
<circle cx="770.4" cy="656.6" r="1.9"/>
<circle cx="1016.6" cy="675.7" r="1.9"/>
<circle cx="817.7" cy="685.5" r="1.9"/>
<circle cx="921.1" cy="692.0" r="1.9"/>
<circle cx="929.0" cy="650.6" r="1.9"/>
<circle cx="911.2" cy="682.0" r="1.9"/>
<circle cx="877.3" cy="677.7" r="1.9"/>
<circle cx="827.4" cy="669.2" r="1.9"/>
<circle cx="1040.0" cy="698.0" r="1.9"/>
<circle cx="857.8" cy="694.0" r="1.9"/>
<circle cx="812.6" cy="656.8" r="1.9"/>
<circle cx="1010.8" cy="660.7" r="1.9"/>
<circle cx="993.9" cy="695.4" r="1.9"/>
<circle cx="917.0" cy="680.3" r="1.9"/>
<circle cx="902.0" cy="673.7" r="1.9"/>
<circle cx="1002.2" cy="701.9" r="1.9"/>
<circle cx="746.6" cy="665.0" r="1.9"/>
<circle cx="980.0" cy="697.4" r="1.9"/>
<circle cx="999.8" cy="671.3" r="1.9"/>
<circle cx="938.0" cy="657.3" r="1.9"/>
<circle cx="979.8" cy="702.2" r="1.9"/>
<circle cx="990.0" cy="666.2" r="1.9"/>
<circle cx="1029.7" cy="663.5" r="1.9"/>
<circle cx="840.9" cy="696.6" r="1.9"/>
<circle cx="799.7" cy="690.7" r="1.9"/>
<circle cx="1042.2" cy="693.6" r="1.9"/>
<circle cx="880.4" cy="658.5" r="1.9"/>
<circle cx="878.7" cy="680.2" r="1.9"/>
<circle cx="790.2" cy="684.2" r="1.9"/>
<circle cx="882.9" cy="697.5" r="1.9"/>
<circle cx="1049.8" cy="725.2" r="1.9"/>
<circle cx="793.0" cy="728.0" r="1.9"/>
<circle cx="824.2" cy="723.9" r="1.9"/>
<circle cx="949.3" cy="702.8" r="1.9"/>
<circle cx="841.6" cy="716.2" r="1.9"/>
<circle cx="1061.4" cy="706.7" r="1.9"/>
<circle cx="1037.8" cy="722.6" r="1.9"/>
<circle cx="1015.2" cy="702.2" r="1.9"/>
<circle cx="763.6" cy="714.3" r="1.9"/>
<circle cx="1047.7" cy="698.4" r="1.9"/>
<circle cx="999.6" cy="704.5" r="1.9"/>
<circle cx="1006.9" cy="708.1" r="1.9"/>
<circle cx="872.5" cy="733.3" r="1.9"/>
<circle cx="1058.4" cy="726.2" r="1.9"/>
<circle cx="1025.8" cy="704.7" r="1.9"/>
<circle cx="855.8" cy="731.3" r="1.9"/>
<circle cx="1040.0" cy="718.3" r="1.9"/>
<circle cx="1075.8" cy="704.5" r="1.9"/>
<circle cx="1040.7" cy="724.9" r="1.9"/>
<circle cx="780.5" cy="732.7" r="1.9"/>
<circle cx="1075.9" cy="734.9" r="1.9"/>
<circle cx="876.9" cy="738.1" r="1.9"/>
<circle cx="980.1" cy="735.7" r="1.9"/>
<circle cx="773.6" cy="745.4" r="1.9"/>
<circle cx="809.6" cy="723.4" r="1.9"/>
<circle cx="883.7" cy="720.3" r="1.9"/>
<circle cx="1062.8" cy="732.2" r="1.9"/>
<circle cx="866.1" cy="746.1" r="1.9"/>
<circle cx="766.7" cy="708.2" r="1.9"/>
<circle cx="1007.2" cy="718.2" r="1.9"/>
<circle cx="907.2" cy="741.5" r="1.9"/>
<circle cx="1025.6" cy="721.5" r="1.9"/>
<circle cx="898.7" cy="714.0" r="1.9"/>
<circle cx="1049.1" cy="732.8" r="1.9"/>
<circle cx="776.4" cy="722.8" r="1.9"/>
<circle cx="1023.1" cy="733.1" r="1.9"/>
<circle cx="852.3" cy="720.7" r="1.9"/>
<circle cx="869.1" cy="709.3" r="1.9"/>
<circle cx="899.0" cy="705.0" r="1.9"/>
<circle cx="839.5" cy="713.4" r="1.9"/>
<circle cx="956.9" cy="726.5" r="1.9"/>
<circle cx="788.8" cy="731.2" r="1.9"/>
<circle cx="842.0" cy="733.0" r="1.9"/>
<circle cx="805.9" cy="701.0" r="1.9"/>
<circle cx="755.7" cy="741.6" r="1.9"/>
<circle cx="781.2" cy="743.7" r="1.9"/>
<circle cx="932.5" cy="708.9" r="1.9"/>
<circle cx="931.3" cy="736.3" r="1.9"/>
<circle cx="954.1" cy="731.2" r="1.9"/>
<circle cx="993.9" cy="703.7" r="1.9"/>
<circle cx="865.2" cy="736.6" r="1.9"/>
<circle cx="849.5" cy="735.5" r="1.9"/>
<circle cx="1077.9" cy="709.9" r="1.9"/>
<circle cx="838.8" cy="725.9" r="1.9"/>
<circle cx="769.0" cy="716.4" r="1.9"/>
<circle cx="1034.0" cy="723.8" r="1.9"/>
<circle cx="786.8" cy="731.1" r="1.9"/>
<circle cx="807.7" cy="746.1" r="1.9"/>
<circle cx="779.8" cy="741.4" r="1.9"/>
<circle cx="902.5" cy="741.5" r="1.9"/>
<circle cx="974.5" cy="733.1" r="1.9"/>
<circle cx="1044.4" cy="710.1" r="1.9"/>
<circle cx="805.7" cy="720.8" r="1.9"/>
<circle cx="1018.1" cy="728.3" r="1.9"/>
<circle cx="981.4" cy="734.4" r="1.9"/>
<circle cx="839.8" cy="743.1" r="1.9"/>
<circle cx="1047.6" cy="737.1" r="1.9"/>
<circle cx="1066.0" cy="716.2" r="1.9"/>
<circle cx="789.8" cy="708.4" r="1.9"/>
<circle cx="848.0" cy="707.0" r="1.9"/>
<circle cx="939.0" cy="713.9" r="1.9"/>
<circle cx="757.6" cy="720.2" r="1.9"/>
<circle cx="934.3" cy="709.5" r="1.9"/>
<circle cx="797.1" cy="712.9" r="1.9"/>
<circle cx="1032.6" cy="724.2" r="1.9"/>
<circle cx="1056.3" cy="746.5" r="1.9"/>
<circle cx="786.1" cy="721.5" r="1.9"/>
<circle cx="905.0" cy="717.6" r="1.9"/>
<circle cx="773.8" cy="714.3" r="1.9"/>
<circle cx="789.1" cy="732.1" r="1.9"/>
<circle cx="896.3" cy="704.5" r="1.9"/>
<circle cx="800.7" cy="725.9" r="1.9"/>
<circle cx="797.3" cy="712.6" r="1.9"/>
<circle cx="795.6" cy="726.6" r="1.9"/>
<circle cx="989.1" cy="734.1" r="1.9"/>
<circle cx="965.0" cy="772.4" r="1.9"/>
<circle cx="831.0" cy="770.8" r="1.9"/>
<circle cx="863.9" cy="786.1" r="1.9"/>
<circle cx="910.1" cy="777.2" r="1.9"/>
<circle cx="891.4" cy="770.8" r="1.9"/>
<circle cx="858.3" cy="780.3" r="1.9"/>
<circle cx="881.8" cy="762.4" r="1.9"/>
<circle cx="862.0" cy="749.9" r="1.9"/>
<circle cx="763.3" cy="767.6" r="1.9"/>
<circle cx="806.4" cy="789.0" r="1.9"/>
<circle cx="872.3" cy="776.6" r="1.9"/>
<circle cx="852.3" cy="761.8" r="1.9"/>
<circle cx="797.1" cy="755.2" r="1.9"/>
<circle cx="966.4" cy="780.8" r="1.9"/>
<circle cx="892.7" cy="791.7" r="1.9"/>
<circle cx="750.9" cy="764.9" r="1.9"/>
<circle cx="885.3" cy="748.1" r="1.9"/>
<circle cx="1074.2" cy="745.6" r="1.9"/>
<circle cx="1030.8" cy="746.8" r="1.9"/>
<circle cx="1014.7" cy="783.6" r="1.9"/>
<circle cx="837.5" cy="742.5" r="1.9"/>
<circle cx="836.4" cy="786.7" r="1.9"/>
<circle cx="846.2" cy="786.4" r="1.9"/>
<circle cx="881.7" cy="777.0" r="1.9"/>
<circle cx="792.5" cy="774.4" r="1.9"/>
<circle cx="973.4" cy="759.0" r="1.9"/>
<circle cx="1002.8" cy="754.8" r="1.9"/>
<circle cx="1069.2" cy="754.7" r="1.9"/>
<circle cx="1058.8" cy="749.1" r="1.9"/>
<circle cx="856.5" cy="784.0" r="1.9"/>
<circle cx="827.1" cy="763.1" r="1.9"/>
<circle cx="780.5" cy="772.6" r="1.9"/>
<circle cx="1037.4" cy="784.2" r="1.9"/>
<circle cx="826.7" cy="778.6" r="1.9"/>
<circle cx="816.2" cy="778.5" r="1.9"/>
<circle cx="768.6" cy="773.0" r="1.9"/>
<circle cx="785.1" cy="753.5" r="1.9"/>
<circle cx="818.9" cy="774.8" r="1.9"/>
<circle cx="838.8" cy="766.4" r="1.9"/>
<circle cx="1062.9" cy="749.3" r="1.9"/>
<circle cx="999.6" cy="782.4" r="1.9"/>
<circle cx="1070.0" cy="743.8" r="1.9"/>
<circle cx="981.9" cy="763.3" r="1.9"/>
<circle cx="876.8" cy="784.0" r="1.9"/>
<circle cx="759.8" cy="765.7" r="1.9"/>
<circle cx="1035.9" cy="749.3" r="1.9"/>
<circle cx="882.8" cy="770.0" r="1.9"/>
<circle cx="957.9" cy="779.2" r="1.9"/>
<circle cx="878.1" cy="759.9" r="1.9"/>
<circle cx="989.4" cy="767.1" r="1.9"/>
<circle cx="1068.5" cy="749.3" r="1.9"/>
<circle cx="1060.8" cy="782.8" r="1.9"/>
<circle cx="1028.7" cy="775.9" r="1.9"/>
<circle cx="1066.4" cy="787.4" r="1.9"/>
<circle cx="1010.1" cy="742.3" r="1.9"/>
<circle cx="895.4" cy="770.4" r="1.9"/>
<circle cx="917.1" cy="783.3" r="1.9"/>
<circle cx="895.5" cy="783.2" r="1.9"/>
<circle cx="874.9" cy="770.4" r="1.9"/>
<circle cx="863.3" cy="764.8" r="1.9"/>
<circle cx="892.5" cy="757.8" r="1.9"/>
<circle cx="847.8" cy="772.1" r="1.9"/>
<circle cx="863.6" cy="770.9" r="1.9"/>
<circle cx="863.0" cy="742.4" r="1.9"/>
<circle cx="787.0" cy="756.9" r="1.9"/>
<circle cx="911.2" cy="776.6" r="1.9"/>
<circle cx="836.9" cy="761.7" r="1.9"/>
<circle cx="1052.6" cy="743.7" r="1.9"/>
<circle cx="1037.9" cy="755.9" r="1.9"/>
<circle cx="995.0" cy="758.0" r="1.9"/>
<circle cx="895.3" cy="763.5" r="1.9"/>
<circle cx="790.3" cy="775.6" r="1.9"/>
<circle cx="895.0" cy="777.9" r="1.9"/>
<circle cx="1065.2" cy="774.1" r="1.9"/>
<circle cx="800.2" cy="769.3" r="1.9"/>
<circle cx="755.9" cy="774.8" r="1.9"/>
<circle cx="965.2" cy="765.5" r="1.9"/>
<circle cx="871.2" cy="755.7" r="1.9"/>
<circle cx="997.2" cy="777.5" r="1.9"/>
<circle cx="887.1" cy="752.1" r="1.9"/>
<circle cx="763.4" cy="770.2" r="1.9"/>
<circle cx="894.9" cy="791.3" r="1.9"/>
<circle cx="819.3" cy="752.4" r="1.9"/>
<circle cx="951.0" cy="764.0" r="1.9"/>
<circle cx="1058.6" cy="771.5" r="1.9"/>
<circle cx="785.3" cy="752.7" r="1.9"/>
<circle cx="1071.7" cy="759.0" r="1.9"/>
<circle cx="852.3" cy="750.3" r="1.9"/>
<circle cx="870.9" cy="789.3" r="1.9"/>
<circle cx="1024.7" cy="767.8" r="1.9"/>
<circle cx="854.2" cy="755.8" r="1.9"/>
<circle cx="813.7" cy="763.4" r="1.9"/>
<circle cx="994.2" cy="781.9" r="1.9"/>
<circle cx="1061.8" cy="759.8" r="1.9"/>
<circle cx="907.6" cy="772.8" r="1.9"/>
<circle cx="954.6" cy="757.4" r="1.9"/>
<circle cx="1051.7" cy="750.4" r="1.9"/>
<circle cx="900.8" cy="768.0" r="1.9"/>
<circle cx="895.5" cy="778.8" r="1.9"/>
<circle cx="859.9" cy="757.3" r="1.9"/>
<circle cx="887.9" cy="771.1" r="1.9"/>
<circle cx="925.9" cy="774.9" r="1.9"/>
<circle cx="858.8" cy="766.8" r="1.9"/>
<circle cx="934.9" cy="828.4" r="1.9"/>
<circle cx="783.1" cy="789.0" r="1.9"/>
<circle cx="888.6" cy="802.4" r="1.9"/>
<circle cx="870.2" cy="809.8" r="1.9"/>
<circle cx="848.9" cy="811.3" r="1.9"/>
<circle cx="820.7" cy="810.0" r="1.9"/>
<circle cx="835.6" cy="796.4" r="1.9"/>
<circle cx="804.1" cy="805.7" r="1.9"/>
<circle cx="1006.1" cy="824.0" r="1.9"/>
<circle cx="960.8" cy="822.4" r="1.9"/>
<circle cx="1055.9" cy="801.4" r="1.9"/>
<circle cx="866.4" cy="820.2" r="1.9"/>
<circle cx="827.2" cy="803.2" r="1.9"/>
<circle cx="1012.5" cy="795.5" r="1.9"/>
<circle cx="872.6" cy="814.4" r="1.9"/>
<circle cx="966.6" cy="794.4" r="1.9"/>
<circle cx="1038.1" cy="799.8" r="1.9"/>
<circle cx="955.6" cy="788.6" r="1.9"/>
<circle cx="927.9" cy="802.9" r="1.9"/>
<circle cx="792.5" cy="798.3" r="1.9"/>
<circle cx="1023.7" cy="805.4" r="1.9"/>
<circle cx="784.3" cy="803.8" r="1.9"/>
<circle cx="810.7" cy="812.1" r="1.9"/>
<circle cx="1037.3" cy="810.8" r="1.9"/>
<circle cx="806.3" cy="805.7" r="1.9"/>
<circle cx="979.2" cy="799.6" r="1.9"/>
<circle cx="976.0" cy="803.0" r="1.9"/>
<circle cx="892.1" cy="806.1" r="1.9"/>
<circle cx="775.0" cy="822.0" r="1.9"/>
<circle cx="818.0" cy="807.3" r="1.9"/>
<circle cx="1088.1" cy="791.2" r="1.9"/>
<circle cx="804.3" cy="822.6" r="1.9"/>
<circle cx="1004.3" cy="809.2" r="1.9"/>
<circle cx="992.4" cy="825.1" r="1.9"/>
<circle cx="903.8" cy="804.3" r="1.9"/>
<circle cx="794.9" cy="808.7" r="1.9"/>
<circle cx="850.7" cy="794.7" r="1.9"/>
<circle cx="959.9" cy="811.5" r="1.9"/>
<circle cx="951.3" cy="788.3" r="1.9"/>
<circle cx="950.1" cy="801.1" r="1.9"/>
<circle cx="997.4" cy="824.7" r="1.9"/>
<circle cx="944.8" cy="796.5" r="1.9"/>
<circle cx="894.9" cy="823.1" r="1.9"/>
<circle cx="834.8" cy="826.7" r="1.9"/>
<circle cx="840.8" cy="821.8" r="1.9"/>
<circle cx="886.9" cy="816.7" r="1.9"/>
<circle cx="1042.1" cy="800.5" r="1.9"/>
<circle cx="824.6" cy="803.0" r="1.9"/>
<circle cx="1024.3" cy="799.7" r="1.9"/>
<circle cx="1021.0" cy="794.9" r="1.9"/>
<circle cx="1074.2" cy="800.6" r="1.9"/>
<circle cx="1024.4" cy="798.1" r="1.9"/>
<circle cx="1015.8" cy="796.9" r="1.9"/>
<circle cx="890.5" cy="793.1" r="1.9"/>
<circle cx="928.2" cy="811.5" r="1.9"/>
<circle cx="832.8" cy="803.5" r="1.9"/>
<circle cx="782.2" cy="790.3" r="1.9"/>
<circle cx="837.6" cy="795.9" r="1.9"/>
<circle cx="773.7" cy="805.1" r="1.9"/>
<circle cx="840.4" cy="817.1" r="1.9"/>
<circle cx="861.0" cy="802.2" r="1.9"/>
<circle cx="918.3" cy="804.3" r="1.9"/>
<circle cx="1033.6" cy="818.6" r="1.9"/>
<circle cx="989.5" cy="800.3" r="1.9"/>
<circle cx="941.2" cy="823.1" r="1.9"/>
<circle cx="1025.5" cy="799.7" r="1.9"/>
<circle cx="982.2" cy="791.9" r="1.9"/>
<circle cx="1015.2" cy="804.8" r="1.9"/>
<circle cx="1020.3" cy="802.0" r="1.9"/>
<circle cx="983.0" cy="795.3" r="1.9"/>
<circle cx="1067.4" cy="815.7" r="1.9"/>
<circle cx="1046.3" cy="803.1" r="1.9"/>
<circle cx="810.7" cy="796.2" r="1.9"/>
<circle cx="906.0" cy="801.6" r="1.9"/>
<circle cx="826.1" cy="810.1" r="1.9"/>
<circle cx="1039.7" cy="807.3" r="1.9"/>
<circle cx="896.6" cy="815.7" r="1.9"/>
<circle cx="974.7" cy="789.1" r="1.9"/>
<circle cx="943.9" cy="815.0" r="1.9"/>
<circle cx="1027.9" cy="802.3" r="1.9"/>
<circle cx="941.1" cy="803.4" r="1.9"/>
<circle cx="805.6" cy="812.1" r="1.9"/>
<circle cx="915.8" cy="794.7" r="1.9"/>
<circle cx="955.1" cy="796.7" r="1.9"/>
<circle cx="982.7" cy="800.4" r="1.9"/>
<circle cx="785.6" cy="801.4" r="1.9"/>
<circle cx="1027.5" cy="798.3" r="1.9"/>
<circle cx="841.2" cy="793.7" r="1.9"/>
<circle cx="934.1" cy="817.5" r="1.9"/>
<circle cx="1067.2" cy="794.5" r="1.9"/>
<circle cx="807.1" cy="797.4" r="1.9"/>
<circle cx="919.3" cy="811.9" r="1.9"/>
<circle cx="829.0" cy="812.4" r="1.9"/>
<circle cx="904.2" cy="796.1" r="1.9"/>
<circle cx="763.1" cy="816.2" r="1.9"/>
<circle cx="986.9" cy="823.2" r="1.9"/>
<circle cx="780.7" cy="804.8" r="1.9"/>
<circle cx="989.5" cy="800.3" r="1.9"/>
<circle cx="954.0" cy="821.7" r="1.9"/>
<circle cx="816.6" cy="803.3" r="1.9"/>
<circle cx="795.4" cy="801.1" r="1.9"/>
<circle cx="955.3" cy="795.9" r="1.9"/>
<circle cx="899.2" cy="816.8" r="1.9"/>
<circle cx="803.9" cy="811.5" r="1.9"/>
<circle cx="836.5" cy="807.6" r="1.9"/>
<circle cx="985.5" cy="814.9" r="1.9"/>
<circle cx="873.3" cy="814.6" r="1.9"/>
<circle cx="1018.9" cy="802.9" r="1.9"/>
<circle cx="943.8" cy="799.9" r="1.9"/>
<circle cx="989.2" cy="822.3" r="1.9"/>
<circle cx="1004.0" cy="808.1" r="1.9"/>
<circle cx="934.6" cy="792.3" r="1.9"/>
<circle cx="820.2" cy="813.0" r="1.9"/>
<circle cx="1061.6" cy="799.4" r="1.9"/>
<circle cx="916.2" cy="799.3" r="1.9"/>
<circle cx="904.4" cy="804.8" r="1.9"/>
<circle cx="1007.6" cy="809.4" r="1.9"/>
<circle cx="823.5" cy="787.7" r="1.9"/>
<circle cx="931.5" cy="804.0" r="1.9"/>
<circle cx="837.7" cy="793.7" r="1.9"/>
<circle cx="840.8" cy="800.6" r="1.9"/>
<circle cx="1006.3" cy="797.7" r="1.9"/>
<circle cx="912.8" cy="797.8" r="1.9"/>
<circle cx="914.6" cy="799.8" r="1.9"/>
<circle cx="775.5" cy="803.5" r="1.9"/>
<circle cx="777.8" cy="805.6" r="1.9"/>
<circle cx="1063.4" cy="800.9" r="1.9"/>
</g>
<g fill="#ebe494">
<circle cx="817.4" cy="486.8" r="2.15"/>
<circle cx="777.1" cy="509.5" r="2.15"/>
<circle cx="875.9" cy="496.4" r="2.15"/>
<circle cx="870.5" cy="521.5" r="2.15"/>
<circle cx="887.2" cy="530.4" r="2.15"/>
<circle cx="836.5" cy="537.5" r="2.15"/>
<circle cx="807.8" cy="536.4" r="2.15"/>
<circle cx="857.8" cy="543.1" r="2.15"/>
<circle cx="791.7" cy="551.1" r="2.15"/>
<circle cx="764.4" cy="558.4" r="2.15"/>
<circle cx="849.8" cy="555.1" r="2.15"/>
<circle cx="835.1" cy="560.7" r="2.15"/>
<circle cx="886.3" cy="549.8" r="2.15"/>
<circle cx="932.7" cy="507.0" r="2.15"/>
<circle cx="939.8" cy="514.4" r="2.15"/>
<circle cx="1038.8" cy="502.8" r="2.15"/>
<circle cx="994.1" cy="514.8" r="2.15"/>
<circle cx="1015.5" cy="523.1" r="2.15"/>
<circle cx="969.4" cy="531.1" r="2.15"/>
<circle cx="1049.2" cy="532.7" r="2.15"/>
<circle cx="966.1" cy="543.4" r="2.15"/>
<circle cx="970.7" cy="551.8" r="2.15"/>
<circle cx="988.1" cy="558.9" r="2.15"/>
<circle cx="1052.2" cy="558.9" r="2.15"/>
<circle cx="1028.8" cy="561.5" r="2.15"/>
<circle cx="787.7" cy="567.1" r="2.15"/>
<circle cx="849.8" cy="564.0" r="2.15"/>
<circle cx="879.9" cy="568.4" r="2.15"/>
<circle cx="821.4" cy="587.4" r="2.15"/>
<circle cx="823.1" cy="600.7" r="2.15"/>
<circle cx="830.2" cy="608.5" r="2.15"/>
<circle cx="879.9" cy="579.4" r="2.15"/>
<circle cx="881.9" cy="608.5" r="2.15"/>
<circle cx="762.6" cy="606.1" r="2.15"/>
<circle cx="775.5" cy="626.8" r="2.15"/>
<circle cx="756.4" cy="614.7" r="2.15"/>
<circle cx="846.5" cy="622.1" r="2.15"/>
<circle cx="906.6" cy="621.8" r="2.15"/>
<circle cx="794.1" cy="628.8" r="2.15"/>
<circle cx="824.9" cy="629.4" r="2.15"/>
<circle cx="785.1" cy="642.4" r="2.15"/>
<circle cx="820.0" cy="649.9" r="2.15"/>
<circle cx="847.8" cy="634.1" r="2.15"/>
<circle cx="843.1" cy="635.7" r="2.15"/>
<circle cx="902.8" cy="650.1" r="2.15"/>
<circle cx="921.3" cy="562.7" r="2.15"/>
<circle cx="944.0" cy="571.6" r="2.15"/>
<circle cx="1012.8" cy="566.7" r="2.15"/>
<circle cx="1028.8" cy="562.7" r="2.15"/>
<circle cx="921.1" cy="577.8" r="2.15"/>
<circle cx="1053.5" cy="592.0" r="2.15"/>
<circle cx="920.7" cy="614.7" r="2.15"/>
<circle cx="969.1" cy="616.1" r="2.15"/>
<circle cx="978.8" cy="623.7" r="2.15"/>
<circle cx="1010.8" cy="622.7" r="2.15"/>
<circle cx="1067.9" cy="612.1" r="2.15"/>
<circle cx="1069.8" cy="629.4" r="2.15"/>
<circle cx="914.9" cy="635.2" r="2.15"/>
<circle cx="969.1" cy="641.8" r="2.15"/>
<circle cx="977.4" cy="646.4" r="2.15"/>
<circle cx="1077.6" cy="649.0" r="2.15"/>
<circle cx="1088.9" cy="643.7" r="2.15"/>
<circle cx="941.1" cy="640.8" r="2.15"/>
<circle cx="980.4" cy="652.1" r="2.15"/>
<circle cx="763.0" cy="668.4" r="2.15"/>
<circle cx="751.0" cy="671.7" r="2.15"/>
<circle cx="795.5" cy="666.4" r="2.15"/>
<circle cx="818.4" cy="659.7" r="2.15"/>
<circle cx="893.2" cy="677.3" r="2.15"/>
<circle cx="813.1" cy="676.4" r="2.15"/>
<circle cx="757.0" cy="693.1" r="2.15"/>
<circle cx="781.1" cy="698.4" r="2.15"/>
<circle cx="833.4" cy="696.4" r="2.15"/>
<circle cx="844.5" cy="694.4" r="2.15"/>
<circle cx="886.5" cy="692.0" r="2.15"/>
<circle cx="909.5" cy="691.7" r="2.15"/>
<circle cx="905.2" cy="711.7" r="2.15"/>
<circle cx="756.4" cy="711.5" r="2.15"/>
<circle cx="820.0" cy="708.0" r="2.15"/>
<circle cx="834.5" cy="708.4" r="2.15"/>
<circle cx="813.1" cy="721.1" r="2.15"/>
<circle cx="805.8" cy="733.8" r="2.15"/>
<circle cx="813.1" cy="735.8" r="2.15"/>
<circle cx="880.5" cy="740.4" r="2.15"/>
<circle cx="1016.8" cy="665.7" r="2.15"/>
<circle cx="1048.2" cy="663.0" r="2.15"/>
<circle cx="1088.2" cy="658.3" r="2.15"/>
<circle cx="943.4" cy="675.0" r="2.15"/>
<circle cx="992.8" cy="680.4" r="2.15"/>
<circle cx="920.0" cy="683.4" r="2.15"/>
<circle cx="928.3" cy="691.7" r="2.15"/>
<circle cx="942.0" cy="692.0" r="2.15"/>
<circle cx="973.1" cy="693.3" r="2.15"/>
<circle cx="994.8" cy="692.4" r="2.15"/>
<circle cx="1024.1" cy="689.7" r="2.15"/>
<circle cx="1061.5" cy="695.1" r="2.15"/>
<circle cx="1083.2" cy="700.4" r="2.15"/>
<circle cx="936.0" cy="697.7" r="2.15"/>
<circle cx="1009.2" cy="701.1" r="2.15"/>
<circle cx="1021.5" cy="704.4" r="2.15"/>
<circle cx="1064.9" cy="701.1" r="2.15"/>
<circle cx="925.1" cy="706.7" r="2.15"/>
<circle cx="916.0" cy="712.8" r="2.15"/>
<circle cx="946.0" cy="707.1" r="2.15"/>
<circle cx="959.0" cy="707.1" r="2.15"/>
<circle cx="975.8" cy="714.7" r="2.15"/>
<circle cx="1004.1" cy="718.4" r="2.15"/>
<circle cx="1036.2" cy="715.1" r="2.15"/>
<circle cx="1054.6" cy="713.1" r="2.15"/>
<circle cx="1072.9" cy="714.7" r="2.15"/>
<circle cx="958.7" cy="726.2" r="2.15"/>
<circle cx="965.4" cy="726.2" r="2.15"/>
<circle cx="974.1" cy="732.4" r="2.15"/>
<circle cx="993.7" cy="730.2" r="2.15"/>
<circle cx="984.8" cy="737.1" r="2.15"/>
<circle cx="1013.5" cy="730.2" r="2.15"/>
<circle cx="1014.1" cy="734.4" r="2.15"/>
<circle cx="1048.2" cy="729.8" r="2.15"/>
<circle cx="942.0" cy="739.1" r="2.15"/>
<circle cx="784.4" cy="746.9" r="2.15"/>
<circle cx="768.4" cy="754.7" r="2.15"/>
<circle cx="761.3" cy="764.0" r="2.15"/>
<circle cx="798.4" cy="762.4" r="2.15"/>
<circle cx="783.1" cy="780.0" r="2.15"/>
<circle cx="805.1" cy="782.7" r="2.15"/>
<circle cx="804.4" cy="809.4" r="2.15"/>
<circle cx="837.1" cy="749.3" r="2.15"/>
<circle cx="829.1" cy="779.0" r="2.15"/>
<circle cx="885.2" cy="766.7" r="2.15"/>
<circle cx="890.5" cy="762.7" r="2.15"/>
<circle cx="903.2" cy="765.4" r="2.15"/>
<circle cx="902.6" cy="786.7" r="2.15"/>
<circle cx="882.5" cy="801.4" r="2.15"/>
<circle cx="858.5" cy="805.4" r="2.15"/>
<circle cx="894.5" cy="744.7" r="2.15"/>
<circle cx="938.0" cy="756.7" r="2.15"/>
<circle cx="970.1" cy="754.0" r="2.15"/>
<circle cx="975.4" cy="758.0" r="2.15"/>
<circle cx="1040.8" cy="753.3" r="2.15"/>
<circle cx="1053.5" cy="753.3" r="2.15"/>
<circle cx="1068.9" cy="753.6" r="2.15"/>
<circle cx="1051.5" cy="766.0" r="2.15"/>
<circle cx="1055.5" cy="761.4" r="2.15"/>
<circle cx="920.7" cy="786.7" r="2.15"/>
<circle cx="1007.1" cy="779.0" r="2.15"/>
<circle cx="997.4" cy="789.4" r="2.15"/>
<circle cx="1014.5" cy="780.0" r="2.15"/>
<circle cx="1059.5" cy="779.0" r="2.15"/>
<circle cx="1046.2" cy="783.4" r="2.15"/>
<circle cx="1027.5" cy="793.7" r="2.15"/>
<circle cx="921.3" cy="800.7" r="2.15"/>
<circle cx="936.0" cy="797.4" r="2.15"/>
<circle cx="988.1" cy="797.7" r="2.15"/>
<circle cx="1049.5" cy="797.1" r="2.15"/>
<circle cx="1053.3" cy="801.7" r="2.15"/>
<circle cx="1015.5" cy="810.5" r="2.15"/>
<circle cx="924.7" cy="814.8" r="2.15"/>
<circle cx="993.7" cy="816.8" r="2.15"/>
<circle cx="1012.4" cy="816.8" r="2.15"/>
<circle cx="1029.5" cy="821.4" r="2.15"/>
<circle cx="957.4" cy="824.8" r="2.15"/>
</g>
<g fill="#d6c23c">
<circle cx="782.4" cy="501.0" r="2.15"/>
<circle cx="853.2" cy="505.4" r="2.15"/>
<circle cx="863.8" cy="496.1" r="2.15"/>
<circle cx="836.9" cy="532.7" r="2.15"/>
<circle cx="795.8" cy="550.8" r="2.15"/>
<circle cx="790.4" cy="559.8" r="2.15"/>
<circle cx="839.1" cy="553.8" r="2.15"/>
<circle cx="844.5" cy="559.8" r="2.15"/>
<circle cx="941.6" cy="487.7" r="2.15"/>
<circle cx="951.4" cy="492.1" r="2.15"/>
<circle cx="941.1" cy="494.8" r="2.15"/>
<circle cx="949.4" cy="499.7" r="2.15"/>
<circle cx="934.4" cy="512.4" r="2.15"/>
<circle cx="924.0" cy="518.8" r="2.15"/>
<circle cx="925.1" cy="525.1" r="2.15"/>
<circle cx="988.1" cy="490.4" r="2.15"/>
<circle cx="1011.5" cy="495.7" r="2.15"/>
<circle cx="1015.9" cy="515.1" r="2.15"/>
<circle cx="972.1" cy="515.7" r="2.15"/>
<circle cx="984.4" cy="518.4" r="2.15"/>
<circle cx="1015.9" cy="526.8" r="2.15"/>
<circle cx="963.4" cy="531.3" r="2.15"/>
<circle cx="977.2" cy="533.1" r="2.15"/>
<circle cx="1006.1" cy="539.1" r="2.15"/>
<circle cx="1017.5" cy="536.7" r="2.15"/>
<circle cx="1047.1" cy="545.5" r="2.15"/>
<circle cx="921.3" cy="560.7" r="2.15"/>
<circle cx="826.2" cy="564.7" r="2.15"/>
<circle cx="762.6" cy="575.6" r="2.15"/>
<circle cx="792.4" cy="579.4" r="2.15"/>
<circle cx="807.1" cy="582.0" r="2.15"/>
<circle cx="837.1" cy="575.6" r="2.15"/>
<circle cx="858.8" cy="571.6" r="2.15"/>
<circle cx="856.1" cy="585.8" r="2.15"/>
<circle cx="833.1" cy="598.7" r="2.15"/>
<circle cx="818.2" cy="604.1" r="2.15"/>
<circle cx="859.6" cy="606.3" r="2.15"/>
<circle cx="845.1" cy="614.7" r="2.15"/>
<circle cx="768.0" cy="618.7" r="2.15"/>
<circle cx="839.8" cy="624.5" r="2.15"/>
<circle cx="901.9" cy="624.8" r="2.15"/>
<circle cx="815.8" cy="632.5" r="2.15"/>
<circle cx="748.0" cy="641.0" r="2.15"/>
<circle cx="802.4" cy="640.1" r="2.15"/>
<circle cx="806.2" cy="648.8" r="2.15"/>
<circle cx="854.5" cy="635.2" r="2.15"/>
<circle cx="861.8" cy="642.1" r="2.15"/>
<circle cx="868.5" cy="648.5" r="2.15"/>
<circle cx="897.5" cy="631.4" r="2.15"/>
<circle cx="996.8" cy="571.6" r="2.15"/>
<circle cx="1007.1" cy="570.3" r="2.15"/>
<circle cx="922.0" cy="583.4" r="2.15"/>
<circle cx="1030.2" cy="598.0" r="2.15"/>
<circle cx="914.4" cy="606.3" r="2.15"/>
<circle cx="988.1" cy="627.4" r="2.15"/>
<circle cx="1049.8" cy="610.3" r="2.15"/>
<circle cx="1005.2" cy="642.4" r="2.15"/>
<circle cx="1073.5" cy="647.4" r="2.15"/>
<circle cx="952.7" cy="649.0" r="2.15"/>
<circle cx="958.7" cy="646.8" r="2.15"/>
<circle cx="963.0" cy="646.1" r="2.15"/>
<circle cx="794.1" cy="655.9" r="2.15"/>
<circle cx="760.4" cy="663.7" r="2.15"/>
<circle cx="780.8" cy="668.0" r="2.15"/>
<circle cx="812.8" cy="663.7" r="2.15"/>
<circle cx="810.2" cy="671.0" r="2.15"/>
<circle cx="836.1" cy="672.0" r="2.15"/>
<circle cx="842.5" cy="665.0" r="2.15"/>
<circle cx="849.4" cy="664.7" r="2.15"/>
<circle cx="910.6" cy="661.0" r="2.15"/>
<circle cx="768.0" cy="674.1" r="2.15"/>
<circle cx="771.5" cy="681.0" r="2.15"/>
<circle cx="777.1" cy="685.0" r="2.15"/>
<circle cx="788.4" cy="685.0" r="2.15"/>
<circle cx="823.8" cy="677.7" r="2.15"/>
<circle cx="836.1" cy="689.3" r="2.15"/>
<circle cx="870.5" cy="686.4" r="2.15"/>
<circle cx="867.2" cy="690.7" r="2.15"/>
<circle cx="797.1" cy="697.7" r="2.15"/>
<circle cx="795.8" cy="700.4" r="2.15"/>
<circle cx="772.4" cy="699.7" r="2.15"/>
<circle cx="773.7" cy="702.4" r="2.15"/>
<circle cx="823.5" cy="692.4" r="2.15"/>
<circle cx="856.5" cy="700.4" r="2.15"/>
<circle cx="881.9" cy="697.3" r="2.15"/>
<circle cx="889.9" cy="706.4" r="2.15"/>
<circle cx="897.2" cy="698.1" r="2.15"/>
<circle cx="903.9" cy="693.7" r="2.15"/>
<circle cx="762.6" cy="718.2" r="2.15"/>
<circle cx="798.4" cy="714.4" r="2.15"/>
<circle cx="785.7" cy="715.1" r="2.15"/>
<circle cx="814.4" cy="714.7" r="2.15"/>
<circle cx="840.1" cy="713.7" r="2.15"/>
<circle cx="851.2" cy="715.1" r="2.15"/>
<circle cx="855.2" cy="725.8" r="2.15"/>
<circle cx="803.1" cy="723.1" r="2.15"/>
<circle cx="795.1" cy="731.8" r="2.15"/>
<circle cx="820.4" cy="732.8" r="2.15"/>
<circle cx="847.6" cy="737.1" r="2.15"/>
<circle cx="868.5" cy="731.1" r="2.15"/>
<circle cx="882.5" cy="722.4" r="2.15"/>
<circle cx="895.6" cy="725.8" r="2.15"/>
<circle cx="912.7" cy="661.0" r="2.15"/>
<circle cx="935.4" cy="662.1" r="2.15"/>
<circle cx="976.8" cy="665.0" r="2.15"/>
<circle cx="951.4" cy="673.0" r="2.15"/>
<circle cx="1007.9" cy="676.0" r="2.15"/>
<circle cx="924.7" cy="688.4" r="2.15"/>
<circle cx="977.4" cy="683.7" r="2.15"/>
<circle cx="1008.8" cy="692.4" r="2.15"/>
<circle cx="1033.5" cy="705.1" r="2.15"/>
<circle cx="1045.8" cy="702.7" r="2.15"/>
<circle cx="914.9" cy="707.1" r="2.15"/>
<circle cx="937.4" cy="714.7" r="2.15"/>
<circle cx="943.8" cy="710.4" r="2.15"/>
<circle cx="1077.6" cy="721.1" r="2.15"/>
<circle cx="964.7" cy="733.1" r="2.15"/>
<circle cx="1035.5" cy="735.1" r="2.15"/>
<circle cx="936.7" cy="743.1" r="2.15"/>
<circle cx="771.1" cy="749.3" r="2.15"/>
<circle cx="798.4" cy="746.0" r="2.15"/>
<circle cx="798.4" cy="754.7" r="2.15"/>
<circle cx="755.0" cy="774.7" r="2.15"/>
<circle cx="794.4" cy="764.0" r="2.15"/>
<circle cx="792.4" cy="773.4" r="2.15"/>
<circle cx="779.1" cy="785.7" r="2.15"/>
<circle cx="795.1" cy="783.4" r="2.15"/>
<circle cx="791.1" cy="788.7" r="2.15"/>
<circle cx="791.1" cy="797.4" r="2.15"/>
<circle cx="791.7" cy="800.7" r="2.15"/>
<circle cx="801.1" cy="801.4" r="2.15"/>
<circle cx="789.1" cy="814.1" r="2.15"/>
<circle cx="811.8" cy="794.7" r="2.15"/>
<circle cx="811.8" cy="820.1" r="2.15"/>
<circle cx="825.8" cy="814.1" r="2.15"/>
<circle cx="837.8" cy="815.0" r="2.15"/>
<circle cx="826.5" cy="758.0" r="2.15"/>
<circle cx="824.5" cy="764.0" r="2.15"/>
<circle cx="832.5" cy="756.7" r="2.15"/>
<circle cx="826.5" cy="798.1" r="2.15"/>
<circle cx="829.1" cy="801.4" r="2.15"/>
<circle cx="858.5" cy="756.0" r="2.15"/>
<circle cx="861.2" cy="759.4" r="2.15"/>
<circle cx="861.8" cy="764.0" r="2.15"/>
<circle cx="865.8" cy="784.1" r="2.15"/>
<circle cx="869.8" cy="766.7" r="2.15"/>
<circle cx="883.2" cy="772.7" r="2.15"/>
<circle cx="893.9" cy="755.3" r="2.15"/>
<circle cx="875.9" cy="753.3" r="2.15"/>
<circle cx="898.6" cy="763.4" r="2.15"/>
<circle cx="901.9" cy="770.7" r="2.15"/>
<circle cx="897.2" cy="778.7" r="2.15"/>
<circle cx="874.5" cy="790.1" r="2.15"/>
<circle cx="897.9" cy="806.1" r="2.15"/>
<circle cx="887.9" cy="786.1" r="2.15"/>
<circle cx="915.3" cy="751.3" r="2.15"/>
<circle cx="936.7" cy="744.7" r="2.15"/>
<circle cx="1028.2" cy="745.6" r="2.15"/>
<circle cx="953.4" cy="760.3" r="2.15"/>
<circle cx="1016.1" cy="766.0" r="2.15"/>
<circle cx="1000.8" cy="769.6" r="2.15"/>
<circle cx="1022.1" cy="756.7" r="2.15"/>
<circle cx="1048.2" cy="756.7" r="2.15"/>
<circle cx="1063.5" cy="746.0" r="2.15"/>
<circle cx="1077.6" cy="748.0" r="2.15"/>
<circle cx="1062.2" cy="771.0" r="2.15"/>
<circle cx="965.4" cy="779.4" r="2.15"/>
<circle cx="988.4" cy="775.0" r="2.15"/>
<circle cx="998.5" cy="781.4" r="2.15"/>
<circle cx="1048.8" cy="779.4" r="2.15"/>
<circle cx="1051.9" cy="775.4" r="2.15"/>
<circle cx="984.1" cy="801.7" r="2.15"/>
<circle cx="1001.7" cy="801.7" r="2.15"/>
<circle cx="1016.8" cy="803.8" r="2.15"/>
<circle cx="1049.5" cy="805.7" r="2.15"/>
<circle cx="1037.5" cy="809.4" r="2.15"/>
<circle cx="936.7" cy="808.4" r="2.15"/>
<circle cx="918.0" cy="814.1" r="2.15"/>
</g>
<g fill="#c99238">
<circle cx="819.1" cy="514.0" r="2.15"/>
<circle cx="818.7" cy="525.7" r="2.15"/>
<circle cx="797.1" cy="529.7" r="2.15"/>
<circle cx="862.2" cy="509.5" r="2.15"/>
<circle cx="878.3" cy="516.4" r="2.15"/>
<circle cx="891.2" cy="518.0" r="2.15"/>
<circle cx="901.5" cy="518.4" r="2.15"/>
<circle cx="843.5" cy="532.1" r="2.15"/>
<circle cx="823.5" cy="541.1" r="2.15"/>
<circle cx="816.8" cy="544.7" r="2.15"/>
<circle cx="864.5" cy="539.8" r="2.15"/>
<circle cx="786.4" cy="548.2" r="2.15"/>
<circle cx="889.9" cy="560.2" r="2.15"/>
<circle cx="1005.7" cy="506.8" r="2.15"/>
<circle cx="973.7" cy="523.1" r="2.15"/>
<circle cx="986.5" cy="532.4" r="2.15"/>
<circle cx="1037.5" cy="539.4" r="2.15"/>
<circle cx="1001.2" cy="543.8" r="2.15"/>
<circle cx="890.3" cy="562.7" r="2.15"/>
<circle cx="897.0" cy="567.3" r="2.15"/>
<circle cx="815.1" cy="573.3" r="2.15"/>
<circle cx="820.4" cy="574.3" r="2.15"/>
<circle cx="839.8" cy="580.0" r="2.15"/>
<circle cx="909.0" cy="600.7" r="2.15"/>
<circle cx="847.8" cy="614.1" r="2.15"/>
<circle cx="871.9" cy="624.8" r="2.15"/>
<circle cx="889.9" cy="622.3" r="2.15"/>
<circle cx="788.8" cy="630.4" r="2.15"/>
<circle cx="776.0" cy="647.2" r="2.15"/>
<circle cx="833.1" cy="649.4" r="2.15"/>
<circle cx="837.4" cy="646.4" r="2.15"/>
<circle cx="863.2" cy="647.4" r="2.15"/>
<circle cx="922.9" cy="590.7" r="2.15"/>
<circle cx="950.1" cy="584.0" r="2.15"/>
<circle cx="990.8" cy="583.1" r="2.15"/>
<circle cx="1028.8" cy="604.5" r="2.15"/>
<circle cx="923.3" cy="639.2" r="2.15"/>
<circle cx="973.4" cy="632.5" r="2.15"/>
<circle cx="1001.7" cy="634.8" r="2.15"/>
<circle cx="1021.7" cy="646.4" r="2.15"/>
<circle cx="1049.5" cy="649.0" r="2.15"/>
<circle cx="944.0" cy="651.2" r="2.15"/>
<circle cx="803.1" cy="662.1" r="2.15"/>
<circle cx="824.5" cy="670.4" r="2.15"/>
<circle cx="773.1" cy="674.6" r="2.15"/>
<circle cx="783.5" cy="677.7" r="2.15"/>
<circle cx="861.2" cy="682.1" r="2.15"/>
<circle cx="786.4" cy="694.4" r="2.15"/>
<circle cx="787.7" cy="699.1" r="2.15"/>
<circle cx="815.1" cy="694.4" r="2.15"/>
<circle cx="859.2" cy="697.1" r="2.15"/>
<circle cx="874.5" cy="706.4" r="2.15"/>
<circle cx="905.2" cy="705.1" r="2.15"/>
<circle cx="911.2" cy="703.1" r="2.15"/>
<circle cx="759.0" cy="704.4" r="2.15"/>
<circle cx="764.4" cy="711.1" r="2.15"/>
<circle cx="797.8" cy="708.4" r="2.15"/>
<circle cx="810.2" cy="705.7" r="2.15"/>
<circle cx="829.8" cy="718.4" r="2.15"/>
<circle cx="779.1" cy="735.1" r="2.15"/>
<circle cx="848.5" cy="728.4" r="2.15"/>
<circle cx="885.9" cy="729.8" r="2.15"/>
<circle cx="903.2" cy="737.1" r="2.15"/>
<circle cx="901.9" cy="741.8" r="2.15"/>
<circle cx="939.4" cy="657.7" r="2.15"/>
<circle cx="982.1" cy="657.3" r="2.15"/>
<circle cx="1008.1" cy="663.9" r="2.15"/>
<circle cx="1054.6" cy="667.7" r="2.15"/>
<circle cx="1003.5" cy="669.7" r="2.15"/>
<circle cx="966.1" cy="690.7" r="2.15"/>
<circle cx="1041.2" cy="685.0" r="2.15"/>
<circle cx="1071.5" cy="697.3" r="2.15"/>
<circle cx="1028.2" cy="700.4" r="2.15"/>
<circle cx="1052.2" cy="702.7" r="2.15"/>
<circle cx="1061.5" cy="703.1" r="2.15"/>
<circle cx="912.7" cy="702.7" r="2.15"/>
<circle cx="932.0" cy="708.0" r="2.15"/>
<circle cx="926.7" cy="719.1" r="2.15"/>
<circle cx="997.2" cy="709.7" r="2.15"/>
<circle cx="988.8" cy="720.4" r="2.15"/>
<circle cx="1031.9" cy="713.7" r="2.15"/>
<circle cx="1049.8" cy="720.4" r="2.15"/>
<circle cx="923.7" cy="732.8" r="2.15"/>
<circle cx="958.7" cy="731.1" r="2.15"/>
<circle cx="1025.2" cy="738.4" r="2.15"/>
<circle cx="1054.9" cy="734.4" r="2.15"/>
<circle cx="766.4" cy="744.0" r="2.15"/>
<circle cx="756.4" cy="752.7" r="2.15"/>
<circle cx="779.1" cy="767.8" r="2.15"/>
<circle cx="765.0" cy="773.4" r="2.15"/>
<circle cx="756.4" cy="788.7" r="2.15"/>
<circle cx="775.1" cy="797.4" r="2.15"/>
<circle cx="792.4" cy="805.4" r="2.15"/>
<circle cx="819.5" cy="815.8" r="2.15"/>
<circle cx="833.8" cy="774.4" r="2.15"/>
<circle cx="818.4" cy="786.1" r="2.15"/>
<circle cx="849.2" cy="776.0" r="2.15"/>
<circle cx="853.8" cy="781.7" r="2.15"/>
<circle cx="854.5" cy="796.7" r="2.15"/>
<circle cx="863.8" cy="771.4" r="2.15"/>
<circle cx="877.2" cy="772.3" r="2.15"/>
<circle cx="907.2" cy="770.0" r="2.15"/>
<circle cx="884.5" cy="789.4" r="2.15"/>
<circle cx="877.2" cy="793.4" r="2.15"/>
<circle cx="898.6" cy="817.4" r="2.15"/>
<circle cx="911.2" cy="797.4" r="2.15"/>
<circle cx="875.2" cy="744.0" r="2.15"/>
<circle cx="939.4" cy="750.0" r="2.15"/>
<circle cx="933.4" cy="771.8" r="2.15"/>
<circle cx="940.3" cy="770.4" r="2.15"/>
<circle cx="964.1" cy="771.4" r="2.15"/>
<circle cx="997.4" cy="754.4" r="2.15"/>
<circle cx="1047.5" cy="749.6" r="2.15"/>
<circle cx="1058.9" cy="752.0" r="2.15"/>
<circle cx="1075.2" cy="769.4" r="2.15"/>
<circle cx="926.0" cy="781.1" r="2.15"/>
<circle cx="966.1" cy="794.7" r="2.15"/>
<circle cx="1023.5" cy="785.4" r="2.15"/>
<circle cx="1032.2" cy="776.0" r="2.15"/>
<circle cx="1038.8" cy="791.0" r="2.15"/>
<circle cx="913.3" cy="797.4" r="2.15"/>
<circle cx="971.4" cy="800.1" r="2.15"/>
<circle cx="1065.3" cy="800.3" r="2.15"/>
<circle cx="1022.1" cy="814.5" r="2.15"/>
<circle cx="1004.1" cy="825.2" r="2.15"/>
</g>
<g fill="#d89a22">
<circle cx="803.1" cy="497.4" r="2.15"/>
<circle cx="826.5" cy="498.4" r="2.15"/>
<circle cx="837.8" cy="506.8" r="2.15"/>
<circle cx="802.4" cy="553.5" r="2.15"/>
<circle cx="1007.9" cy="536.4" r="2.15"/>
<circle cx="978.8" cy="550.4" r="2.15"/>
<circle cx="759.0" cy="584.0" r="2.15"/>
<circle cx="752.0" cy="634.8" r="2.15"/>
<circle cx="880.9" cy="636.5" r="2.15"/>
<circle cx="1072.9" cy="573.3" r="2.15"/>
<circle cx="1028.2" cy="595.4" r="2.15"/>
<circle cx="988.8" cy="617.4" r="2.15"/>
<circle cx="913.3" cy="628.1" r="2.15"/>
<circle cx="855.8" cy="677.3" r="2.15"/>
<circle cx="864.5" cy="690.4" r="2.15"/>
<circle cx="791.7" cy="709.7" r="2.15"/>
<circle cx="799.8" cy="726.4" r="2.15"/>
<circle cx="794.4" cy="727.1" r="2.15"/>
<circle cx="769.0" cy="741.8" r="2.15"/>
<circle cx="1003.5" cy="659.7" r="2.15"/>
<circle cx="996.8" cy="673.7" r="2.15"/>
<circle cx="914.7" cy="683.7" r="2.15"/>
<circle cx="1056.9" cy="692.8" r="2.15"/>
<circle cx="757.0" cy="772.7" r="2.15"/>
<circle cx="839.8" cy="781.4" r="2.15"/>
<circle cx="839.8" cy="790.1" r="2.15"/>
<circle cx="836.5" cy="798.7" r="2.15"/>
<circle cx="861.8" cy="780.7" r="2.15"/>
<circle cx="924.0" cy="760.7" r="2.15"/>
<circle cx="964.7" cy="765.6" r="2.15"/>
<circle cx="1010.1" cy="762.7" r="2.15"/>
<circle cx="1077.6" cy="751.3" r="2.15"/>
<circle cx="1018.8" cy="794.7" r="2.15"/>
<circle cx="986.8" cy="817.2" r="2.15"/>
</g>
<g fill="#c46840">
<circle cx="809.8" cy="516.4" r="2.15"/>
<circle cx="813.8" cy="520.1" r="2.15"/>
<circle cx="837.8" cy="519.7" r="2.15"/>
<circle cx="827.8" cy="578.7" r="2.15"/>
<circle cx="804.0" cy="593.4" r="2.15"/>
<circle cx="797.4" cy="599.7" r="2.15"/>
<circle cx="1066.6" cy="593.8" r="2.15"/>
<circle cx="1021.7" cy="623.1" r="2.15"/>
<circle cx="1076.0" cy="607.1" r="2.15"/>
<circle cx="1058.6" cy="615.4" r="2.15"/>
<circle cx="921.1" cy="628.5" r="2.15"/>
<circle cx="954.7" cy="628.5" r="2.15"/>
<circle cx="987.4" cy="640.8" r="2.15"/>
<circle cx="1042.8" cy="648.1" r="2.15"/>
<circle cx="867.6" cy="666.6" r="2.15"/>
<circle cx="896.6" cy="709.7" r="2.15"/>
<circle cx="782.4" cy="708.0" r="2.15"/>
<circle cx="788.4" cy="711.7" r="2.15"/>
<circle cx="823.8" cy="724.4" r="2.15"/>
<circle cx="849.8" cy="722.2" r="2.15"/>
<circle cx="863.8" cy="722.2" r="2.15"/>
<circle cx="789.1" cy="728.4" r="2.15"/>
<circle cx="776.0" cy="728.4" r="2.15"/>
<circle cx="887.2" cy="735.5" r="2.15"/>
<circle cx="901.5" cy="721.1" r="2.15"/>
<circle cx="969.4" cy="676.0" r="2.15"/>
<circle cx="936.0" cy="681.0" r="2.15"/>
<circle cx="947.4" cy="719.5" r="2.15"/>
<circle cx="1005.5" cy="711.1" r="2.15"/>
<circle cx="1009.2" cy="714.4" r="2.15"/>
<circle cx="1072.2" cy="741.4" r="2.15"/>
<circle cx="825.8" cy="808.1" r="2.15"/>
<circle cx="825.1" cy="786.1" r="2.15"/>
<circle cx="843.8" cy="780.0" r="2.15"/>
<circle cx="834.5" cy="789.4" r="2.15"/>
<circle cx="844.5" cy="790.7" r="2.15"/>
<circle cx="847.2" cy="809.4" r="2.15"/>
<circle cx="879.9" cy="751.3" r="2.15"/>
<circle cx="886.5" cy="748.7" r="2.15"/>
<circle cx="889.2" cy="755.3" r="2.15"/>
<circle cx="866.5" cy="802.7" r="2.15"/>
<circle cx="953.4" cy="800.1" r="2.15"/>
</g>
<g fill="none" stroke="#aa6a88" stroke-width="1.9">
<circle cx="1072.2" cy="575.4" r="2.7"/>
<circle cx="1022.1" cy="580.7" r="2.7"/>
<circle cx="1005.5" cy="589.4" r="2.7"/>
<circle cx="1045.8" cy="595.4" r="2.7"/>
<circle cx="947.0" cy="684.8" r="2.7"/>
<circle cx="934.0" cy="688.0" r="2.7"/>
<circle cx="1025.8" cy="694.1" r="2.7"/>
<circle cx="963.8" cy="704.4" r="2.7"/>
<circle cx="925.4" cy="713.3" r="2.7"/>
<circle cx="934.7" cy="717.1" r="2.7"/>
<circle cx="946.4" cy="724.8" r="2.7"/>
<circle cx="946.4" cy="734.4" r="2.7"/>
<circle cx="986.1" cy="729.4" r="2.7"/>
<circle cx="797.1" cy="778.0" r="2.7"/>
<circle cx="831.1" cy="767.4" r="2.7"/>
<circle cx="850.5" cy="804.7" r="2.7"/>
<circle cx="855.6" cy="772.3" r="2.7"/>
<circle cx="869.2" cy="776.7" r="2.7"/>
<circle cx="921.6" cy="765.6" r="2.7"/>
<circle cx="978.1" cy="782.7" r="2.7"/>
<circle cx="972.7" cy="788.7" r="2.7"/>
<circle cx="978.8" cy="789.4" r="2.7"/>
<circle cx="996.1" cy="776.0" r="2.7"/>
<circle cx="961.7" cy="813.2" r="2.7"/>
<circle cx="1001.2" cy="816.8" r="2.7"/>
</g>
<g fill="none" stroke="#a0609a" stroke-width="1.9">
<circle cx="812.4" cy="501.4" r="2.7"/>
<circle cx="827.1" cy="503.0" r="2.7"/>
<circle cx="842.7" cy="501.0" r="2.7"/>
<circle cx="796.4" cy="519.7" r="2.7"/>
<circle cx="854.8" cy="558.9" r="2.7"/>
<circle cx="938.7" cy="505.0" r="2.7"/>
<circle cx="1010.8" cy="489.4" r="2.7"/>
<circle cx="999.4" cy="511.7" r="2.7"/>
<circle cx="1042.2" cy="520.1" r="2.7"/>
<circle cx="999.4" cy="535.8" r="2.7"/>
<circle cx="1007.9" cy="548.4" r="2.7"/>
<circle cx="829.1" cy="585.8" r="2.7"/>
<circle cx="822.2" cy="594.0" r="2.7"/>
<circle cx="827.1" cy="604.7" r="2.7"/>
<circle cx="865.8" cy="594.7" r="2.7"/>
<circle cx="910.6" cy="594.3" r="2.7"/>
<circle cx="757.3" cy="606.3" r="2.7"/>
<circle cx="790.7" cy="607.4" r="2.7"/>
<circle cx="843.5" cy="611.4" r="2.7"/>
<circle cx="858.5" cy="627.4" r="2.7"/>
<circle cx="863.6" cy="633.8" r="2.7"/>
<circle cx="826.2" cy="643.7" r="2.7"/>
<circle cx="839.8" cy="648.1" r="2.7"/>
<circle cx="913.3" cy="594.7" r="2.7"/>
<circle cx="960.7" cy="584.7" r="2.7"/>
<circle cx="950.7" cy="604.7" r="2.7"/>
<circle cx="927.4" cy="617.4" r="2.7"/>
<circle cx="930.7" cy="615.4" r="2.7"/>
<circle cx="994.1" cy="609.8" r="2.7"/>
<circle cx="1069.5" cy="606.7" r="2.7"/>
<circle cx="1058.9" cy="640.1" r="2.7"/>
<circle cx="1013.5" cy="649.4" r="2.7"/>
<circle cx="958.1" cy="651.2" r="2.7"/>
<circle cx="837.8" cy="685.3" r="2.7"/>
<circle cx="887.2" cy="714.7" r="2.7"/>
<circle cx="824.5" cy="727.1" r="2.7"/>
<circle cx="843.5" cy="732.4" r="2.7"/>
<circle cx="873.9" cy="739.8" r="2.7"/>
<circle cx="764.4" cy="740.4" r="2.7"/>
<circle cx="1066.6" cy="680.0" r="2.7"/>
<circle cx="1021.7" cy="722.7" r="2.7"/>
<circle cx="985.4" cy="741.8" r="2.7"/>
<circle cx="1065.8" cy="729.8" r="2.7"/>
<circle cx="1064.2" cy="741.4" r="2.7"/>
<circle cx="797.1" cy="790.1" r="2.7"/>
<circle cx="781.1" cy="805.4" r="2.7"/>
<circle cx="821.1" cy="771.8" r="2.7"/>
<circle cx="860.5" cy="750.0" r="2.7"/>
<circle cx="908.6" cy="746.0" r="2.7"/>
<circle cx="875.6" cy="805.7" r="2.7"/>
<circle cx="902.6" cy="744.0" r="2.7"/>
<circle cx="925.6" cy="751.3" r="2.7"/>
<circle cx="1070.2" cy="770.0" r="2.7"/>
<circle cx="950.7" cy="785.1" r="2.7"/>
<circle cx="957.4" cy="793.4" r="2.7"/>
<circle cx="1018.8" cy="784.7" r="2.7"/>
<circle cx="1041.2" cy="785.1" r="2.7"/>
<circle cx="996.8" cy="800.3" r="2.7"/>
<circle cx="1029.2" cy="810.8" r="2.7"/>
</g>
<g fill="none" stroke="#6e4a84" stroke-width="1.9">
<circle cx="809.4" cy="493.0" r="2.7"/>
<circle cx="841.1" cy="497.7" r="2.7"/>
<circle cx="846.2" cy="513.7" r="2.7"/>
<circle cx="904.6" cy="535.8" r="2.7"/>
<circle cx="991.8" cy="489.7" r="2.7"/>
<circle cx="1023.5" cy="538.4" r="2.7"/>
<circle cx="999.0" cy="555.8" r="2.7"/>
<circle cx="794.7" cy="591.1" r="2.7"/>
<circle cx="852.5" cy="600.5" r="2.7"/>
<circle cx="861.4" cy="629.4" r="2.7"/>
<circle cx="906.6" cy="632.8" r="2.7"/>
<circle cx="911.2" cy="644.1" r="2.7"/>
<circle cx="1066.2" cy="572.7" r="2.7"/>
<circle cx="988.4" cy="622.7" r="2.7"/>
<circle cx="1025.2" cy="634.4" r="2.7"/>
<circle cx="829.8" cy="672.4" r="2.7"/>
<circle cx="893.9" cy="667.0" r="2.7"/>
<circle cx="760.8" cy="677.3" r="2.7"/>
<circle cx="795.1" cy="688.8" r="2.7"/>
<circle cx="814.7" cy="684.0" r="2.7"/>
<circle cx="851.2" cy="685.3" r="2.7"/>
<circle cx="883.2" cy="704.4" r="2.7"/>
<circle cx="827.1" cy="712.4" r="2.7"/>
<circle cx="783.5" cy="735.8" r="2.7"/>
<circle cx="827.8" cy="732.8" r="2.7"/>
<circle cx="910.3" cy="733.8" r="2.7"/>
<circle cx="799.1" cy="740.4" r="2.7"/>
<circle cx="944.7" cy="655.7" r="2.7"/>
<circle cx="949.7" cy="658.6" r="2.7"/>
<circle cx="958.1" cy="653.7" r="2.7"/>
<circle cx="1007.5" cy="689.7" r="2.7"/>
<circle cx="958.1" cy="696.8" r="2.7"/>
<circle cx="1031.5" cy="723.1" r="2.7"/>
<circle cx="1062.9" cy="715.5" r="2.7"/>
<circle cx="912.7" cy="733.8" r="2.7"/>
<circle cx="1043.5" cy="729.8" r="2.7"/>
<circle cx="1051.9" cy="728.4" r="2.7"/>
<circle cx="1046.8" cy="737.8" r="2.7"/>
<circle cx="771.1" cy="765.1" r="2.7"/>
<circle cx="784.4" cy="797.7" r="2.7"/>
<circle cx="817.8" cy="775.8" r="2.7"/>
<circle cx="849.2" cy="790.7" r="2.7"/>
<circle cx="853.8" cy="789.1" r="2.7"/>
<circle cx="841.8" cy="802.7" r="2.7"/>
<circle cx="853.8" cy="749.3" r="2.7"/>
<circle cx="984.8" cy="744.7" r="2.7"/>
<circle cx="955.8" cy="756.7" r="2.7"/>
<circle cx="1042.8" cy="764.0" r="2.7"/>
<circle cx="953.1" cy="779.0" r="2.7"/>
<circle cx="994.5" cy="783.0" r="2.7"/>
<circle cx="953.7" cy="802.1" r="2.7"/>
<circle cx="1005.7" cy="809.2" r="2.7"/>
<circle cx="938.0" cy="812.8" r="2.7"/>
</g>
<g fill="none" stroke="#403a44" stroke-width="1.9">
<circle cx="828.1" cy="511.7" r="2.7"/>
<circle cx="927.4" cy="584.7" r="2.7"/>
<circle cx="1017.5" cy="583.4" r="2.7"/>
<circle cx="914.0" cy="644.8" r="2.7"/>
<circle cx="835.1" cy="721.1" r="2.7"/>
<circle cx="873.2" cy="736.4" r="2.7"/>
<circle cx="989.2" cy="699.1" r="2.7"/>
<circle cx="950.5" cy="711.7" r="2.7"/>
<circle cx="821.8" cy="781.7" r="2.7"/>
<circle cx="876.5" cy="765.1" r="2.7"/>
<circle cx="954.5" cy="770.4" r="2.7"/>
<circle cx="956.7" cy="790.7" r="2.7"/>
</g>
</g></svg>
</body></html>
